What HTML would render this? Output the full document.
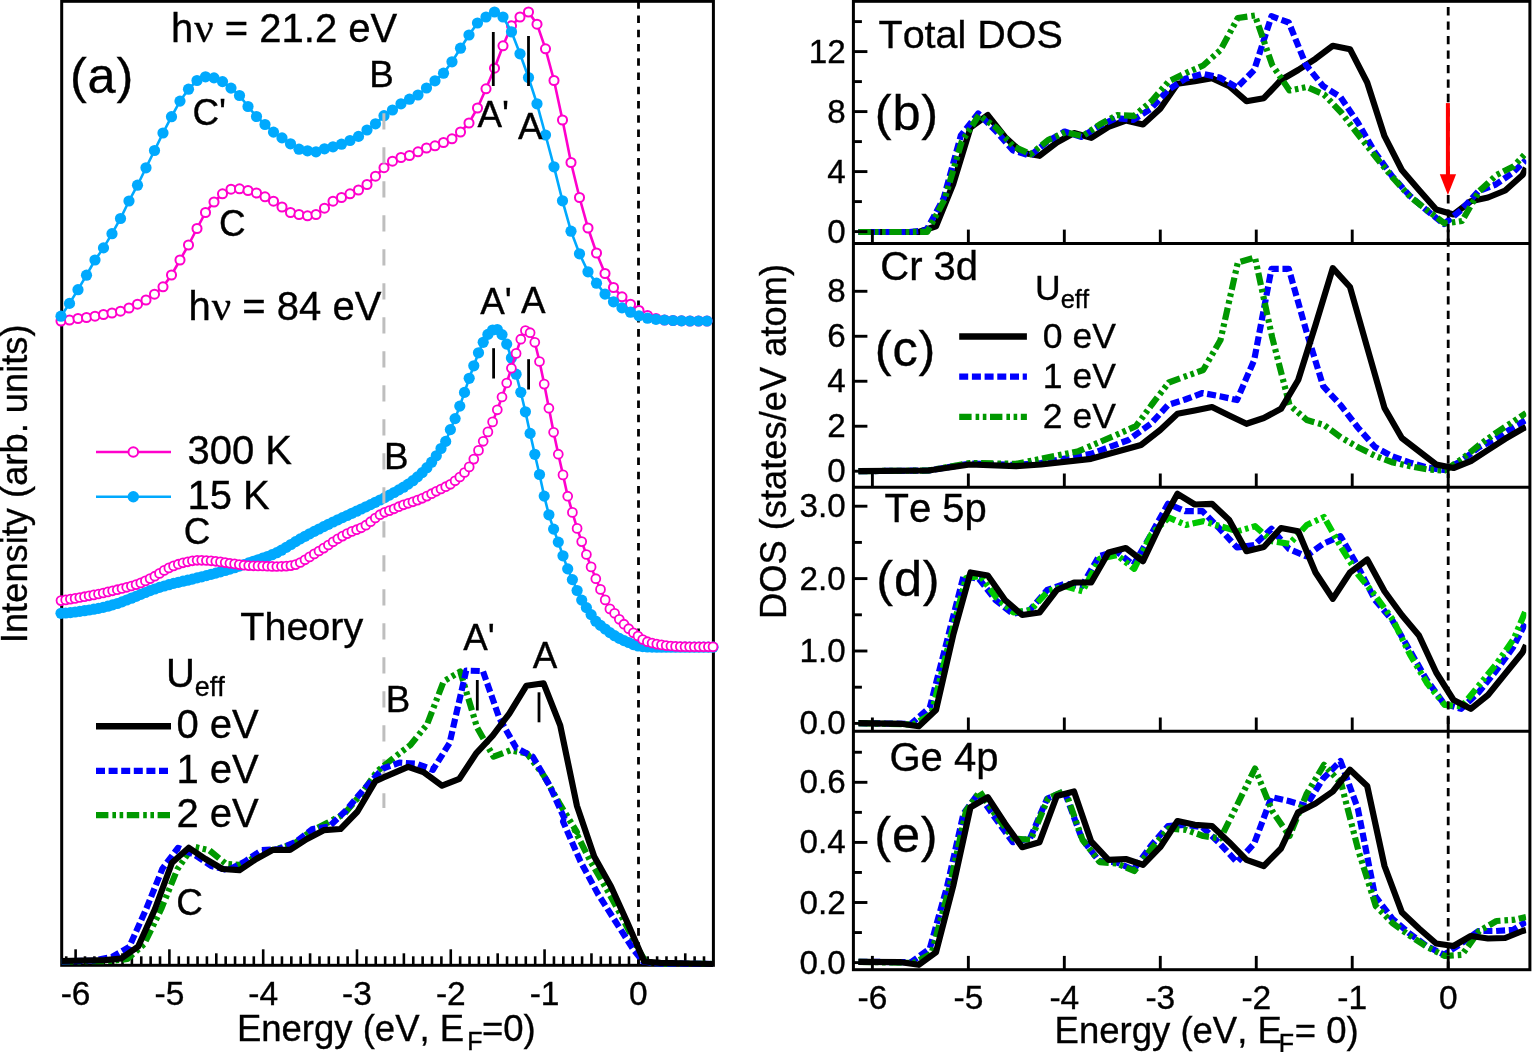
<!DOCTYPE html>
<html><head><meta charset="utf-8"><title>Figure</title>
<style>html,body{margin:0;padding:0;background:#fff;}svg{display:block;}</style>
</head><body>
<svg width="1532" height="1052" viewBox="0 0 1532 1052" font-family='"Liberation Sans", sans-serif' fill="#000">
<style>text{stroke:#000;stroke-width:0.35px;font-kerning:none;font-variant-ligatures:none;}</style>
<rect x="0" y="0" width="1532" height="1052" fill="#fff"/>
<rect x="61.7" y="1.3" width="651.6999999999999" height="964.0" fill="none" stroke="#000" stroke-width="3"/>
<line x1="66.23" y1="965.30" x2="66.23" y2="956.30" stroke="#000" stroke-width="2.6"/>
<line x1="75.61" y1="965.30" x2="75.61" y2="949.30" stroke="#000" stroke-width="2.6"/>
<line x1="84.99" y1="965.30" x2="84.99" y2="956.30" stroke="#000" stroke-width="2.6"/>
<line x1="94.37" y1="965.30" x2="94.37" y2="956.30" stroke="#000" stroke-width="2.6"/>
<line x1="103.75" y1="965.30" x2="103.75" y2="956.30" stroke="#000" stroke-width="2.6"/>
<line x1="113.13" y1="965.30" x2="113.13" y2="956.30" stroke="#000" stroke-width="2.6"/>
<line x1="122.50" y1="965.30" x2="122.50" y2="953.30" stroke="#000" stroke-width="2.6"/>
<line x1="131.88" y1="965.30" x2="131.88" y2="956.30" stroke="#000" stroke-width="2.6"/>
<line x1="141.26" y1="965.30" x2="141.26" y2="956.30" stroke="#000" stroke-width="2.6"/>
<line x1="150.64" y1="965.30" x2="150.64" y2="956.30" stroke="#000" stroke-width="2.6"/>
<line x1="160.02" y1="965.30" x2="160.02" y2="956.30" stroke="#000" stroke-width="2.6"/>
<line x1="169.40" y1="965.30" x2="169.40" y2="949.30" stroke="#000" stroke-width="2.6"/>
<line x1="178.78" y1="965.30" x2="178.78" y2="956.30" stroke="#000" stroke-width="2.6"/>
<line x1="188.16" y1="965.30" x2="188.16" y2="956.30" stroke="#000" stroke-width="2.6"/>
<line x1="197.54" y1="965.30" x2="197.54" y2="956.30" stroke="#000" stroke-width="2.6"/>
<line x1="206.92" y1="965.30" x2="206.92" y2="956.30" stroke="#000" stroke-width="2.6"/>
<line x1="216.30" y1="965.30" x2="216.30" y2="953.30" stroke="#000" stroke-width="2.6"/>
<line x1="225.67" y1="965.30" x2="225.67" y2="956.30" stroke="#000" stroke-width="2.6"/>
<line x1="235.05" y1="965.30" x2="235.05" y2="956.30" stroke="#000" stroke-width="2.6"/>
<line x1="244.43" y1="965.30" x2="244.43" y2="956.30" stroke="#000" stroke-width="2.6"/>
<line x1="253.81" y1="965.30" x2="253.81" y2="956.30" stroke="#000" stroke-width="2.6"/>
<line x1="263.19" y1="965.30" x2="263.19" y2="949.30" stroke="#000" stroke-width="2.6"/>
<line x1="272.57" y1="965.30" x2="272.57" y2="956.30" stroke="#000" stroke-width="2.6"/>
<line x1="281.95" y1="965.30" x2="281.95" y2="956.30" stroke="#000" stroke-width="2.6"/>
<line x1="291.33" y1="965.30" x2="291.33" y2="956.30" stroke="#000" stroke-width="2.6"/>
<line x1="300.71" y1="965.30" x2="300.71" y2="956.30" stroke="#000" stroke-width="2.6"/>
<line x1="310.08" y1="965.30" x2="310.08" y2="953.30" stroke="#000" stroke-width="2.6"/>
<line x1="319.46" y1="965.30" x2="319.46" y2="956.30" stroke="#000" stroke-width="2.6"/>
<line x1="328.84" y1="965.30" x2="328.84" y2="956.30" stroke="#000" stroke-width="2.6"/>
<line x1="338.22" y1="965.30" x2="338.22" y2="956.30" stroke="#000" stroke-width="2.6"/>
<line x1="347.60" y1="965.30" x2="347.60" y2="956.30" stroke="#000" stroke-width="2.6"/>
<line x1="356.98" y1="965.30" x2="356.98" y2="949.30" stroke="#000" stroke-width="2.6"/>
<line x1="366.36" y1="965.30" x2="366.36" y2="956.30" stroke="#000" stroke-width="2.6"/>
<line x1="375.74" y1="965.30" x2="375.74" y2="956.30" stroke="#000" stroke-width="2.6"/>
<line x1="385.12" y1="965.30" x2="385.12" y2="956.30" stroke="#000" stroke-width="2.6"/>
<line x1="394.50" y1="965.30" x2="394.50" y2="956.30" stroke="#000" stroke-width="2.6"/>
<line x1="403.88" y1="965.30" x2="403.88" y2="953.30" stroke="#000" stroke-width="2.6"/>
<line x1="413.25" y1="965.30" x2="413.25" y2="956.30" stroke="#000" stroke-width="2.6"/>
<line x1="422.63" y1="965.30" x2="422.63" y2="956.30" stroke="#000" stroke-width="2.6"/>
<line x1="432.01" y1="965.30" x2="432.01" y2="956.30" stroke="#000" stroke-width="2.6"/>
<line x1="441.39" y1="965.30" x2="441.39" y2="956.30" stroke="#000" stroke-width="2.6"/>
<line x1="450.77" y1="965.30" x2="450.77" y2="949.30" stroke="#000" stroke-width="2.6"/>
<line x1="460.15" y1="965.30" x2="460.15" y2="956.30" stroke="#000" stroke-width="2.6"/>
<line x1="469.53" y1="965.30" x2="469.53" y2="956.30" stroke="#000" stroke-width="2.6"/>
<line x1="478.91" y1="965.30" x2="478.91" y2="956.30" stroke="#000" stroke-width="2.6"/>
<line x1="488.29" y1="965.30" x2="488.29" y2="956.30" stroke="#000" stroke-width="2.6"/>
<line x1="497.67" y1="965.30" x2="497.67" y2="953.30" stroke="#000" stroke-width="2.6"/>
<line x1="507.04" y1="965.30" x2="507.04" y2="956.30" stroke="#000" stroke-width="2.6"/>
<line x1="516.42" y1="965.30" x2="516.42" y2="956.30" stroke="#000" stroke-width="2.6"/>
<line x1="525.80" y1="965.30" x2="525.80" y2="956.30" stroke="#000" stroke-width="2.6"/>
<line x1="535.18" y1="965.30" x2="535.18" y2="956.30" stroke="#000" stroke-width="2.6"/>
<line x1="544.56" y1="965.30" x2="544.56" y2="949.30" stroke="#000" stroke-width="2.6"/>
<line x1="553.94" y1="965.30" x2="553.94" y2="956.30" stroke="#000" stroke-width="2.6"/>
<line x1="563.32" y1="965.30" x2="563.32" y2="956.30" stroke="#000" stroke-width="2.6"/>
<line x1="572.70" y1="965.30" x2="572.70" y2="956.30" stroke="#000" stroke-width="2.6"/>
<line x1="582.08" y1="965.30" x2="582.08" y2="956.30" stroke="#000" stroke-width="2.6"/>
<line x1="591.46" y1="965.30" x2="591.46" y2="953.30" stroke="#000" stroke-width="2.6"/>
<line x1="600.83" y1="965.30" x2="600.83" y2="956.30" stroke="#000" stroke-width="2.6"/>
<line x1="610.21" y1="965.30" x2="610.21" y2="956.30" stroke="#000" stroke-width="2.6"/>
<line x1="619.59" y1="965.30" x2="619.59" y2="956.30" stroke="#000" stroke-width="2.6"/>
<line x1="628.97" y1="965.30" x2="628.97" y2="956.30" stroke="#000" stroke-width="2.6"/>
<line x1="638.35" y1="965.30" x2="638.35" y2="949.30" stroke="#000" stroke-width="2.6"/>
<line x1="647.73" y1="965.30" x2="647.73" y2="956.30" stroke="#000" stroke-width="2.6"/>
<line x1="657.11" y1="965.30" x2="657.11" y2="956.30" stroke="#000" stroke-width="2.6"/>
<line x1="666.49" y1="965.30" x2="666.49" y2="956.30" stroke="#000" stroke-width="2.6"/>
<line x1="675.87" y1="965.30" x2="675.87" y2="956.30" stroke="#000" stroke-width="2.6"/>
<line x1="685.25" y1="965.30" x2="685.25" y2="953.30" stroke="#000" stroke-width="2.6"/>
<line x1="694.62" y1="965.30" x2="694.62" y2="956.30" stroke="#000" stroke-width="2.6"/>
<line x1="704.00" y1="965.30" x2="704.00" y2="956.30" stroke="#000" stroke-width="2.6"/>
<line x1="638.50" y1="1.14" x2="638.50" y2="965.00" stroke="#000" stroke-width="2.8" stroke-dasharray="7.6 6.66"/>
<path d="M61.0,613.3 L65.7,613.0 L70.4,612.6 L75.1,612.0 L79.8,611.4 L84.5,610.7 L89.1,610.0 L93.8,609.2 L98.5,608.4 L103.2,607.4 L107.9,606.2 L112.6,604.9 L117.3,603.5 L122.0,601.9 L126.7,600.0 L131.4,598.2 L136.1,596.4 L140.8,594.4 L145.4,592.5 L150.1,590.6 L154.8,589.0 L159.5,587.4 L164.2,586.0 L168.9,584.7 L173.6,583.4 L178.3,582.3 L183.0,581.2 L187.7,580.2 L192.4,579.1 L197.1,577.9 L201.7,576.8 L206.4,575.6 L211.1,574.3 L215.8,573.1 L220.5,571.8 L225.2,570.5 L229.9,569.1 L234.6,567.7 L239.3,566.1 L244.0,564.6 L248.7,562.9 L253.3,561.3 L258.0,559.8 L262.7,558.2 L267.4,556.5 L272.1,554.7 L276.8,552.7 L281.5,550.2 L286.2,547.4 L290.9,544.5 L295.6,541.6 L300.3,538.9 L305.0,536.3 L309.6,533.8 L314.3,531.4 L319.0,529.0 L323.7,526.6 L328.4,524.3 L333.1,522.0 L337.8,519.8 L342.5,517.6 L347.2,515.5 L351.9,513.3 L356.6,511.2 L361.2,509.0 L365.9,506.8 L370.6,504.6 L375.3,502.3 L380.0,500.0 L384.7,497.6 L389.4,495.1 L394.1,492.5 L398.8,489.9 L403.5,487.2 L408.2,484.1 L412.9,480.7 L417.5,476.9 L422.2,472.6 L426.9,467.7 L431.6,462.2 L436.3,455.8 L441.0,448.5 L445.7,441.4 L450.4,429.6 L455.1,418.6 L459.8,406.1 L464.5,392.4 L469.2,378.3 L473.8,365.8 L478.5,352.8 L483.2,342.3 L487.9,334.4 L492.6,330.0 L497.3,329.5 L502.0,334.6 L506.7,344.1 L511.4,358.0 L516.1,374.2 L520.8,392.3 L525.4,411.8 L530.1,433.4 L534.8,454.3 L539.5,474.5 L544.2,496.1 L548.9,514.8 L553.6,529.1 L558.3,542.1 L563.0,555.8 L567.7,568.9 L572.4,579.6 L577.1,590.5 L581.7,600.1 L586.4,607.6 L591.1,614.6 L595.8,621.2 L600.5,625.4 L605.2,629.0 L609.9,632.6 L614.6,635.7 L619.3,638.4 L624.0,640.6 L628.7,642.5 L633.4,644.6 L638.0,646.0 L642.7,646.6 L647.4,647.0 L652.1,647.1 L656.8,647.2 L661.5,647.2 L666.2,647.2 L670.9,647.2 L675.6,647.2 L680.3,647.2 L685.0,647.2 L689.6,647.2 L694.3,647.2 L699.0,647.2 L703.7,647.2 L708.4,647.2 L713.0,647.2" fill="none" stroke="#00A9FE" stroke-width="2.6"/>
<circle cx="61.0" cy="613.3" r="5.6" fill="#00A9FE"/>
<circle cx="65.7" cy="613.0" r="5.6" fill="#00A9FE"/>
<circle cx="70.4" cy="612.6" r="5.6" fill="#00A9FE"/>
<circle cx="75.1" cy="612.0" r="5.6" fill="#00A9FE"/>
<circle cx="79.8" cy="611.4" r="5.6" fill="#00A9FE"/>
<circle cx="84.5" cy="610.7" r="5.6" fill="#00A9FE"/>
<circle cx="89.1" cy="610.0" r="5.6" fill="#00A9FE"/>
<circle cx="93.8" cy="609.2" r="5.6" fill="#00A9FE"/>
<circle cx="98.5" cy="608.4" r="5.6" fill="#00A9FE"/>
<circle cx="103.2" cy="607.4" r="5.6" fill="#00A9FE"/>
<circle cx="107.9" cy="606.2" r="5.6" fill="#00A9FE"/>
<circle cx="112.6" cy="604.9" r="5.6" fill="#00A9FE"/>
<circle cx="117.3" cy="603.5" r="5.6" fill="#00A9FE"/>
<circle cx="122.0" cy="601.9" r="5.6" fill="#00A9FE"/>
<circle cx="126.7" cy="600.0" r="5.6" fill="#00A9FE"/>
<circle cx="131.4" cy="598.2" r="5.6" fill="#00A9FE"/>
<circle cx="136.1" cy="596.4" r="5.6" fill="#00A9FE"/>
<circle cx="140.8" cy="594.4" r="5.6" fill="#00A9FE"/>
<circle cx="145.4" cy="592.5" r="5.6" fill="#00A9FE"/>
<circle cx="150.1" cy="590.6" r="5.6" fill="#00A9FE"/>
<circle cx="154.8" cy="589.0" r="5.6" fill="#00A9FE"/>
<circle cx="159.5" cy="587.4" r="5.6" fill="#00A9FE"/>
<circle cx="164.2" cy="586.0" r="5.6" fill="#00A9FE"/>
<circle cx="168.9" cy="584.7" r="5.6" fill="#00A9FE"/>
<circle cx="173.6" cy="583.4" r="5.6" fill="#00A9FE"/>
<circle cx="178.3" cy="582.3" r="5.6" fill="#00A9FE"/>
<circle cx="183.0" cy="581.2" r="5.6" fill="#00A9FE"/>
<circle cx="187.7" cy="580.2" r="5.6" fill="#00A9FE"/>
<circle cx="192.4" cy="579.1" r="5.6" fill="#00A9FE"/>
<circle cx="197.1" cy="577.9" r="5.6" fill="#00A9FE"/>
<circle cx="201.7" cy="576.8" r="5.6" fill="#00A9FE"/>
<circle cx="206.4" cy="575.6" r="5.6" fill="#00A9FE"/>
<circle cx="211.1" cy="574.3" r="5.6" fill="#00A9FE"/>
<circle cx="215.8" cy="573.1" r="5.6" fill="#00A9FE"/>
<circle cx="220.5" cy="571.8" r="5.6" fill="#00A9FE"/>
<circle cx="225.2" cy="570.5" r="5.6" fill="#00A9FE"/>
<circle cx="229.9" cy="569.1" r="5.6" fill="#00A9FE"/>
<circle cx="234.6" cy="567.7" r="5.6" fill="#00A9FE"/>
<circle cx="239.3" cy="566.1" r="5.6" fill="#00A9FE"/>
<circle cx="244.0" cy="564.6" r="5.6" fill="#00A9FE"/>
<circle cx="248.7" cy="562.9" r="5.6" fill="#00A9FE"/>
<circle cx="253.3" cy="561.3" r="5.6" fill="#00A9FE"/>
<circle cx="258.0" cy="559.8" r="5.6" fill="#00A9FE"/>
<circle cx="262.7" cy="558.2" r="5.6" fill="#00A9FE"/>
<circle cx="267.4" cy="556.5" r="5.6" fill="#00A9FE"/>
<circle cx="272.1" cy="554.7" r="5.6" fill="#00A9FE"/>
<circle cx="276.8" cy="552.7" r="5.6" fill="#00A9FE"/>
<circle cx="281.5" cy="550.2" r="5.6" fill="#00A9FE"/>
<circle cx="286.2" cy="547.4" r="5.6" fill="#00A9FE"/>
<circle cx="290.9" cy="544.5" r="5.6" fill="#00A9FE"/>
<circle cx="295.6" cy="541.6" r="5.6" fill="#00A9FE"/>
<circle cx="300.3" cy="538.9" r="5.6" fill="#00A9FE"/>
<circle cx="305.0" cy="536.3" r="5.6" fill="#00A9FE"/>
<circle cx="309.6" cy="533.8" r="5.6" fill="#00A9FE"/>
<circle cx="314.3" cy="531.4" r="5.6" fill="#00A9FE"/>
<circle cx="319.0" cy="529.0" r="5.6" fill="#00A9FE"/>
<circle cx="323.7" cy="526.6" r="5.6" fill="#00A9FE"/>
<circle cx="328.4" cy="524.3" r="5.6" fill="#00A9FE"/>
<circle cx="333.1" cy="522.0" r="5.6" fill="#00A9FE"/>
<circle cx="337.8" cy="519.8" r="5.6" fill="#00A9FE"/>
<circle cx="342.5" cy="517.6" r="5.6" fill="#00A9FE"/>
<circle cx="347.2" cy="515.5" r="5.6" fill="#00A9FE"/>
<circle cx="351.9" cy="513.3" r="5.6" fill="#00A9FE"/>
<circle cx="356.6" cy="511.2" r="5.6" fill="#00A9FE"/>
<circle cx="361.2" cy="509.0" r="5.6" fill="#00A9FE"/>
<circle cx="365.9" cy="506.8" r="5.6" fill="#00A9FE"/>
<circle cx="370.6" cy="504.6" r="5.6" fill="#00A9FE"/>
<circle cx="375.3" cy="502.3" r="5.6" fill="#00A9FE"/>
<circle cx="380.0" cy="500.0" r="5.6" fill="#00A9FE"/>
<circle cx="384.7" cy="497.6" r="5.6" fill="#00A9FE"/>
<circle cx="389.4" cy="495.1" r="5.6" fill="#00A9FE"/>
<circle cx="394.1" cy="492.5" r="5.6" fill="#00A9FE"/>
<circle cx="398.8" cy="489.9" r="5.6" fill="#00A9FE"/>
<circle cx="403.5" cy="487.2" r="5.6" fill="#00A9FE"/>
<circle cx="408.2" cy="484.1" r="5.6" fill="#00A9FE"/>
<circle cx="412.9" cy="480.7" r="5.6" fill="#00A9FE"/>
<circle cx="417.5" cy="476.9" r="5.6" fill="#00A9FE"/>
<circle cx="422.2" cy="472.6" r="5.6" fill="#00A9FE"/>
<circle cx="426.9" cy="467.7" r="5.6" fill="#00A9FE"/>
<circle cx="431.6" cy="462.2" r="5.6" fill="#00A9FE"/>
<circle cx="436.3" cy="455.8" r="5.6" fill="#00A9FE"/>
<circle cx="441.0" cy="448.5" r="5.6" fill="#00A9FE"/>
<circle cx="445.7" cy="441.4" r="5.6" fill="#00A9FE"/>
<circle cx="450.4" cy="429.6" r="5.6" fill="#00A9FE"/>
<circle cx="455.1" cy="418.6" r="5.6" fill="#00A9FE"/>
<circle cx="459.8" cy="406.1" r="5.6" fill="#00A9FE"/>
<circle cx="464.5" cy="392.4" r="5.6" fill="#00A9FE"/>
<circle cx="469.2" cy="378.3" r="5.6" fill="#00A9FE"/>
<circle cx="473.8" cy="365.8" r="5.6" fill="#00A9FE"/>
<circle cx="478.5" cy="352.8" r="5.6" fill="#00A9FE"/>
<circle cx="483.2" cy="342.3" r="5.6" fill="#00A9FE"/>
<circle cx="487.9" cy="334.4" r="5.6" fill="#00A9FE"/>
<circle cx="492.6" cy="330.0" r="5.6" fill="#00A9FE"/>
<circle cx="497.3" cy="329.5" r="5.6" fill="#00A9FE"/>
<circle cx="502.0" cy="334.6" r="5.6" fill="#00A9FE"/>
<circle cx="506.7" cy="344.1" r="5.6" fill="#00A9FE"/>
<circle cx="511.4" cy="358.0" r="5.6" fill="#00A9FE"/>
<circle cx="516.1" cy="374.2" r="5.6" fill="#00A9FE"/>
<circle cx="520.8" cy="392.3" r="5.6" fill="#00A9FE"/>
<circle cx="525.4" cy="411.8" r="5.6" fill="#00A9FE"/>
<circle cx="530.1" cy="433.4" r="5.6" fill="#00A9FE"/>
<circle cx="534.8" cy="454.3" r="5.6" fill="#00A9FE"/>
<circle cx="539.5" cy="474.5" r="5.6" fill="#00A9FE"/>
<circle cx="544.2" cy="496.1" r="5.6" fill="#00A9FE"/>
<circle cx="548.9" cy="514.8" r="5.6" fill="#00A9FE"/>
<circle cx="553.6" cy="529.1" r="5.6" fill="#00A9FE"/>
<circle cx="558.3" cy="542.1" r="5.6" fill="#00A9FE"/>
<circle cx="563.0" cy="555.8" r="5.6" fill="#00A9FE"/>
<circle cx="567.7" cy="568.9" r="5.6" fill="#00A9FE"/>
<circle cx="572.4" cy="579.6" r="5.6" fill="#00A9FE"/>
<circle cx="577.1" cy="590.5" r="5.6" fill="#00A9FE"/>
<circle cx="581.7" cy="600.1" r="5.6" fill="#00A9FE"/>
<circle cx="586.4" cy="607.6" r="5.6" fill="#00A9FE"/>
<circle cx="591.1" cy="614.6" r="5.6" fill="#00A9FE"/>
<circle cx="595.8" cy="621.2" r="5.6" fill="#00A9FE"/>
<circle cx="600.5" cy="625.4" r="5.6" fill="#00A9FE"/>
<circle cx="605.2" cy="629.0" r="5.6" fill="#00A9FE"/>
<circle cx="609.9" cy="632.6" r="5.6" fill="#00A9FE"/>
<circle cx="614.6" cy="635.7" r="5.6" fill="#00A9FE"/>
<circle cx="619.3" cy="638.4" r="5.6" fill="#00A9FE"/>
<circle cx="624.0" cy="640.6" r="5.6" fill="#00A9FE"/>
<circle cx="628.7" cy="642.5" r="5.6" fill="#00A9FE"/>
<circle cx="633.4" cy="644.6" r="5.6" fill="#00A9FE"/>
<circle cx="638.0" cy="646.0" r="5.6" fill="#00A9FE"/>
<circle cx="642.7" cy="646.6" r="5.6" fill="#00A9FE"/>
<circle cx="647.4" cy="647.0" r="5.6" fill="#00A9FE"/>
<circle cx="652.1" cy="647.1" r="5.6" fill="#00A9FE"/>
<circle cx="656.8" cy="647.2" r="5.6" fill="#00A9FE"/>
<circle cx="661.5" cy="647.2" r="5.6" fill="#00A9FE"/>
<circle cx="666.2" cy="647.2" r="5.6" fill="#00A9FE"/>
<circle cx="670.9" cy="647.2" r="5.6" fill="#00A9FE"/>
<circle cx="675.6" cy="647.2" r="5.6" fill="#00A9FE"/>
<circle cx="680.3" cy="647.2" r="5.6" fill="#00A9FE"/>
<circle cx="685.0" cy="647.2" r="5.6" fill="#00A9FE"/>
<circle cx="689.6" cy="647.2" r="5.6" fill="#00A9FE"/>
<circle cx="694.3" cy="647.2" r="5.6" fill="#00A9FE"/>
<circle cx="699.0" cy="647.2" r="5.6" fill="#00A9FE"/>
<circle cx="703.7" cy="647.2" r="5.6" fill="#00A9FE"/>
<circle cx="708.4" cy="647.2" r="5.6" fill="#00A9FE"/>
<circle cx="713.0" cy="647.2" r="5.6" fill="#00A9FE"/>
<path d="M61.0,600.6 L65.7,599.9 L70.4,599.1 L75.1,598.4 L79.8,597.5 L84.5,596.7 L89.1,595.8 L93.8,594.9 L98.5,594.0 L103.2,593.0 L107.9,591.9 L112.6,590.8 L117.3,589.7 L122.0,588.5 L126.7,587.3 L131.4,586.0 L136.1,584.6 L140.8,582.9 L145.4,580.9 L150.1,578.6 L154.8,576.2 L159.5,573.4 L164.2,570.4 L168.9,567.9 L173.6,565.9 L178.3,564.2 L183.0,562.8 L187.7,561.8 L192.4,560.8 L197.1,560.3 L201.7,560.3 L206.4,560.5 L211.1,560.8 L215.8,561.3 L220.5,561.9 L225.2,562.6 L229.9,563.3 L234.6,563.9 L239.3,564.6 L244.0,565.2 L248.7,565.6 L253.3,565.8 L258.0,565.9 L262.7,566.0 L267.4,566.2 L272.1,566.4 L276.8,566.5 L281.5,566.3 L286.2,566.1 L290.9,565.6 L295.6,564.6 L300.3,562.5 L305.0,559.8 L309.6,556.9 L314.3,553.9 L319.0,551.0 L323.7,548.1 L328.4,545.0 L333.1,541.8 L337.8,538.8 L342.5,536.1 L347.2,533.6 L351.9,531.4 L356.6,529.7 L361.2,527.8 L365.9,525.2 L370.6,521.7 L375.3,518.0 L380.0,514.7 L384.7,512.3 L389.4,510.6 L394.1,508.8 L398.8,506.7 L403.5,504.8 L408.2,503.3 L412.9,501.8 L417.5,500.1 L422.2,498.3 L426.9,496.1 L431.6,493.7 L436.3,491.3 L441.0,489.0 L445.7,486.7 L450.4,484.3 L455.1,480.8 L459.8,477.0 L464.5,472.5 L469.2,466.9 L473.8,459.1 L478.5,450.4 L483.2,441.3 L487.9,431.9 L492.6,421.9 L497.3,409.8 L502.0,397.0 L506.7,383.0 L511.4,368.2 L516.1,353.4 L520.8,339.2 L525.4,330.5 L530.1,332.7 L534.8,342.3 L539.5,361.5 L544.2,384.1 L548.9,408.2 L553.6,432.3 L558.3,454.2 L563.0,474.9 L567.7,496.2 L572.4,512.4 L577.1,528.4 L581.7,541.6 L586.4,554.5 L591.1,566.9 L595.8,578.7 L600.5,589.4 L605.2,599.9 L609.9,608.9 L614.6,613.3 L619.3,619.3 L624.0,624.2 L628.7,628.7 L633.4,632.8 L638.0,636.0 L642.7,639.5 L647.4,641.7 L652.1,643.0 L656.8,644.1 L661.5,644.9 L666.2,645.6 L670.9,646.0 L675.6,646.4 L680.3,646.6 L685.0,646.7 L689.6,646.8 L694.3,646.8 L699.0,646.8 L703.7,646.8 L708.4,646.8 L713.0,646.8" fill="none" stroke="#FF00CC" stroke-width="2.6"/>
<circle cx="61.0" cy="600.6" r="4.45" fill="#fff" stroke="#FF00CC" stroke-width="1.8"/>
<circle cx="65.7" cy="599.9" r="4.45" fill="#fff" stroke="#FF00CC" stroke-width="1.8"/>
<circle cx="70.4" cy="599.1" r="4.45" fill="#fff" stroke="#FF00CC" stroke-width="1.8"/>
<circle cx="75.1" cy="598.4" r="4.45" fill="#fff" stroke="#FF00CC" stroke-width="1.8"/>
<circle cx="79.8" cy="597.5" r="4.45" fill="#fff" stroke="#FF00CC" stroke-width="1.8"/>
<circle cx="84.5" cy="596.7" r="4.45" fill="#fff" stroke="#FF00CC" stroke-width="1.8"/>
<circle cx="89.1" cy="595.8" r="4.45" fill="#fff" stroke="#FF00CC" stroke-width="1.8"/>
<circle cx="93.8" cy="594.9" r="4.45" fill="#fff" stroke="#FF00CC" stroke-width="1.8"/>
<circle cx="98.5" cy="594.0" r="4.45" fill="#fff" stroke="#FF00CC" stroke-width="1.8"/>
<circle cx="103.2" cy="593.0" r="4.45" fill="#fff" stroke="#FF00CC" stroke-width="1.8"/>
<circle cx="107.9" cy="591.9" r="4.45" fill="#fff" stroke="#FF00CC" stroke-width="1.8"/>
<circle cx="112.6" cy="590.8" r="4.45" fill="#fff" stroke="#FF00CC" stroke-width="1.8"/>
<circle cx="117.3" cy="589.7" r="4.45" fill="#fff" stroke="#FF00CC" stroke-width="1.8"/>
<circle cx="122.0" cy="588.5" r="4.45" fill="#fff" stroke="#FF00CC" stroke-width="1.8"/>
<circle cx="126.7" cy="587.3" r="4.45" fill="#fff" stroke="#FF00CC" stroke-width="1.8"/>
<circle cx="131.4" cy="586.0" r="4.45" fill="#fff" stroke="#FF00CC" stroke-width="1.8"/>
<circle cx="136.1" cy="584.6" r="4.45" fill="#fff" stroke="#FF00CC" stroke-width="1.8"/>
<circle cx="140.8" cy="582.9" r="4.45" fill="#fff" stroke="#FF00CC" stroke-width="1.8"/>
<circle cx="145.4" cy="580.9" r="4.45" fill="#fff" stroke="#FF00CC" stroke-width="1.8"/>
<circle cx="150.1" cy="578.6" r="4.45" fill="#fff" stroke="#FF00CC" stroke-width="1.8"/>
<circle cx="154.8" cy="576.2" r="4.45" fill="#fff" stroke="#FF00CC" stroke-width="1.8"/>
<circle cx="159.5" cy="573.4" r="4.45" fill="#fff" stroke="#FF00CC" stroke-width="1.8"/>
<circle cx="164.2" cy="570.4" r="4.45" fill="#fff" stroke="#FF00CC" stroke-width="1.8"/>
<circle cx="168.9" cy="567.9" r="4.45" fill="#fff" stroke="#FF00CC" stroke-width="1.8"/>
<circle cx="173.6" cy="565.9" r="4.45" fill="#fff" stroke="#FF00CC" stroke-width="1.8"/>
<circle cx="178.3" cy="564.2" r="4.45" fill="#fff" stroke="#FF00CC" stroke-width="1.8"/>
<circle cx="183.0" cy="562.8" r="4.45" fill="#fff" stroke="#FF00CC" stroke-width="1.8"/>
<circle cx="187.7" cy="561.8" r="4.45" fill="#fff" stroke="#FF00CC" stroke-width="1.8"/>
<circle cx="192.4" cy="560.8" r="4.45" fill="#fff" stroke="#FF00CC" stroke-width="1.8"/>
<circle cx="197.1" cy="560.3" r="4.45" fill="#fff" stroke="#FF00CC" stroke-width="1.8"/>
<circle cx="201.7" cy="560.3" r="4.45" fill="#fff" stroke="#FF00CC" stroke-width="1.8"/>
<circle cx="206.4" cy="560.5" r="4.45" fill="#fff" stroke="#FF00CC" stroke-width="1.8"/>
<circle cx="211.1" cy="560.8" r="4.45" fill="#fff" stroke="#FF00CC" stroke-width="1.8"/>
<circle cx="215.8" cy="561.3" r="4.45" fill="#fff" stroke="#FF00CC" stroke-width="1.8"/>
<circle cx="220.5" cy="561.9" r="4.45" fill="#fff" stroke="#FF00CC" stroke-width="1.8"/>
<circle cx="225.2" cy="562.6" r="4.45" fill="#fff" stroke="#FF00CC" stroke-width="1.8"/>
<circle cx="229.9" cy="563.3" r="4.45" fill="#fff" stroke="#FF00CC" stroke-width="1.8"/>
<circle cx="234.6" cy="563.9" r="4.45" fill="#fff" stroke="#FF00CC" stroke-width="1.8"/>
<circle cx="239.3" cy="564.6" r="4.45" fill="#fff" stroke="#FF00CC" stroke-width="1.8"/>
<circle cx="244.0" cy="565.2" r="4.45" fill="#fff" stroke="#FF00CC" stroke-width="1.8"/>
<circle cx="248.7" cy="565.6" r="4.45" fill="#fff" stroke="#FF00CC" stroke-width="1.8"/>
<circle cx="253.3" cy="565.8" r="4.45" fill="#fff" stroke="#FF00CC" stroke-width="1.8"/>
<circle cx="258.0" cy="565.9" r="4.45" fill="#fff" stroke="#FF00CC" stroke-width="1.8"/>
<circle cx="262.7" cy="566.0" r="4.45" fill="#fff" stroke="#FF00CC" stroke-width="1.8"/>
<circle cx="267.4" cy="566.2" r="4.45" fill="#fff" stroke="#FF00CC" stroke-width="1.8"/>
<circle cx="272.1" cy="566.4" r="4.45" fill="#fff" stroke="#FF00CC" stroke-width="1.8"/>
<circle cx="276.8" cy="566.5" r="4.45" fill="#fff" stroke="#FF00CC" stroke-width="1.8"/>
<circle cx="281.5" cy="566.3" r="4.45" fill="#fff" stroke="#FF00CC" stroke-width="1.8"/>
<circle cx="286.2" cy="566.1" r="4.45" fill="#fff" stroke="#FF00CC" stroke-width="1.8"/>
<circle cx="290.9" cy="565.6" r="4.45" fill="#fff" stroke="#FF00CC" stroke-width="1.8"/>
<circle cx="295.6" cy="564.6" r="4.45" fill="#fff" stroke="#FF00CC" stroke-width="1.8"/>
<circle cx="300.3" cy="562.5" r="4.45" fill="#fff" stroke="#FF00CC" stroke-width="1.8"/>
<circle cx="305.0" cy="559.8" r="4.45" fill="#fff" stroke="#FF00CC" stroke-width="1.8"/>
<circle cx="309.6" cy="556.9" r="4.45" fill="#fff" stroke="#FF00CC" stroke-width="1.8"/>
<circle cx="314.3" cy="553.9" r="4.45" fill="#fff" stroke="#FF00CC" stroke-width="1.8"/>
<circle cx="319.0" cy="551.0" r="4.45" fill="#fff" stroke="#FF00CC" stroke-width="1.8"/>
<circle cx="323.7" cy="548.1" r="4.45" fill="#fff" stroke="#FF00CC" stroke-width="1.8"/>
<circle cx="328.4" cy="545.0" r="4.45" fill="#fff" stroke="#FF00CC" stroke-width="1.8"/>
<circle cx="333.1" cy="541.8" r="4.45" fill="#fff" stroke="#FF00CC" stroke-width="1.8"/>
<circle cx="337.8" cy="538.8" r="4.45" fill="#fff" stroke="#FF00CC" stroke-width="1.8"/>
<circle cx="342.5" cy="536.1" r="4.45" fill="#fff" stroke="#FF00CC" stroke-width="1.8"/>
<circle cx="347.2" cy="533.6" r="4.45" fill="#fff" stroke="#FF00CC" stroke-width="1.8"/>
<circle cx="351.9" cy="531.4" r="4.45" fill="#fff" stroke="#FF00CC" stroke-width="1.8"/>
<circle cx="356.6" cy="529.7" r="4.45" fill="#fff" stroke="#FF00CC" stroke-width="1.8"/>
<circle cx="361.2" cy="527.8" r="4.45" fill="#fff" stroke="#FF00CC" stroke-width="1.8"/>
<circle cx="365.9" cy="525.2" r="4.45" fill="#fff" stroke="#FF00CC" stroke-width="1.8"/>
<circle cx="370.6" cy="521.7" r="4.45" fill="#fff" stroke="#FF00CC" stroke-width="1.8"/>
<circle cx="375.3" cy="518.0" r="4.45" fill="#fff" stroke="#FF00CC" stroke-width="1.8"/>
<circle cx="380.0" cy="514.7" r="4.45" fill="#fff" stroke="#FF00CC" stroke-width="1.8"/>
<circle cx="384.7" cy="512.3" r="4.45" fill="#fff" stroke="#FF00CC" stroke-width="1.8"/>
<circle cx="389.4" cy="510.6" r="4.45" fill="#fff" stroke="#FF00CC" stroke-width="1.8"/>
<circle cx="394.1" cy="508.8" r="4.45" fill="#fff" stroke="#FF00CC" stroke-width="1.8"/>
<circle cx="398.8" cy="506.7" r="4.45" fill="#fff" stroke="#FF00CC" stroke-width="1.8"/>
<circle cx="403.5" cy="504.8" r="4.45" fill="#fff" stroke="#FF00CC" stroke-width="1.8"/>
<circle cx="408.2" cy="503.3" r="4.45" fill="#fff" stroke="#FF00CC" stroke-width="1.8"/>
<circle cx="412.9" cy="501.8" r="4.45" fill="#fff" stroke="#FF00CC" stroke-width="1.8"/>
<circle cx="417.5" cy="500.1" r="4.45" fill="#fff" stroke="#FF00CC" stroke-width="1.8"/>
<circle cx="422.2" cy="498.3" r="4.45" fill="#fff" stroke="#FF00CC" stroke-width="1.8"/>
<circle cx="426.9" cy="496.1" r="4.45" fill="#fff" stroke="#FF00CC" stroke-width="1.8"/>
<circle cx="431.6" cy="493.7" r="4.45" fill="#fff" stroke="#FF00CC" stroke-width="1.8"/>
<circle cx="436.3" cy="491.3" r="4.45" fill="#fff" stroke="#FF00CC" stroke-width="1.8"/>
<circle cx="441.0" cy="489.0" r="4.45" fill="#fff" stroke="#FF00CC" stroke-width="1.8"/>
<circle cx="445.7" cy="486.7" r="4.45" fill="#fff" stroke="#FF00CC" stroke-width="1.8"/>
<circle cx="450.4" cy="484.3" r="4.45" fill="#fff" stroke="#FF00CC" stroke-width="1.8"/>
<circle cx="455.1" cy="480.8" r="4.45" fill="#fff" stroke="#FF00CC" stroke-width="1.8"/>
<circle cx="459.8" cy="477.0" r="4.45" fill="#fff" stroke="#FF00CC" stroke-width="1.8"/>
<circle cx="464.5" cy="472.5" r="4.45" fill="#fff" stroke="#FF00CC" stroke-width="1.8"/>
<circle cx="469.2" cy="466.9" r="4.45" fill="#fff" stroke="#FF00CC" stroke-width="1.8"/>
<circle cx="473.8" cy="459.1" r="4.45" fill="#fff" stroke="#FF00CC" stroke-width="1.8"/>
<circle cx="478.5" cy="450.4" r="4.45" fill="#fff" stroke="#FF00CC" stroke-width="1.8"/>
<circle cx="483.2" cy="441.3" r="4.45" fill="#fff" stroke="#FF00CC" stroke-width="1.8"/>
<circle cx="487.9" cy="431.9" r="4.45" fill="#fff" stroke="#FF00CC" stroke-width="1.8"/>
<circle cx="492.6" cy="421.9" r="4.45" fill="#fff" stroke="#FF00CC" stroke-width="1.8"/>
<circle cx="497.3" cy="409.8" r="4.45" fill="#fff" stroke="#FF00CC" stroke-width="1.8"/>
<circle cx="502.0" cy="397.0" r="4.45" fill="#fff" stroke="#FF00CC" stroke-width="1.8"/>
<circle cx="506.7" cy="383.0" r="4.45" fill="#fff" stroke="#FF00CC" stroke-width="1.8"/>
<circle cx="511.4" cy="368.2" r="4.45" fill="#fff" stroke="#FF00CC" stroke-width="1.8"/>
<circle cx="516.1" cy="353.4" r="4.45" fill="#fff" stroke="#FF00CC" stroke-width="1.8"/>
<circle cx="520.8" cy="339.2" r="4.45" fill="#fff" stroke="#FF00CC" stroke-width="1.8"/>
<circle cx="525.4" cy="330.5" r="4.45" fill="#fff" stroke="#FF00CC" stroke-width="1.8"/>
<circle cx="530.1" cy="332.7" r="4.45" fill="#fff" stroke="#FF00CC" stroke-width="1.8"/>
<circle cx="534.8" cy="342.3" r="4.45" fill="#fff" stroke="#FF00CC" stroke-width="1.8"/>
<circle cx="539.5" cy="361.5" r="4.45" fill="#fff" stroke="#FF00CC" stroke-width="1.8"/>
<circle cx="544.2" cy="384.1" r="4.45" fill="#fff" stroke="#FF00CC" stroke-width="1.8"/>
<circle cx="548.9" cy="408.2" r="4.45" fill="#fff" stroke="#FF00CC" stroke-width="1.8"/>
<circle cx="553.6" cy="432.3" r="4.45" fill="#fff" stroke="#FF00CC" stroke-width="1.8"/>
<circle cx="558.3" cy="454.2" r="4.45" fill="#fff" stroke="#FF00CC" stroke-width="1.8"/>
<circle cx="563.0" cy="474.9" r="4.45" fill="#fff" stroke="#FF00CC" stroke-width="1.8"/>
<circle cx="567.7" cy="496.2" r="4.45" fill="#fff" stroke="#FF00CC" stroke-width="1.8"/>
<circle cx="572.4" cy="512.4" r="4.45" fill="#fff" stroke="#FF00CC" stroke-width="1.8"/>
<circle cx="577.1" cy="528.4" r="4.45" fill="#fff" stroke="#FF00CC" stroke-width="1.8"/>
<circle cx="581.7" cy="541.6" r="4.45" fill="#fff" stroke="#FF00CC" stroke-width="1.8"/>
<circle cx="586.4" cy="554.5" r="4.45" fill="#fff" stroke="#FF00CC" stroke-width="1.8"/>
<circle cx="591.1" cy="566.9" r="4.45" fill="#fff" stroke="#FF00CC" stroke-width="1.8"/>
<circle cx="595.8" cy="578.7" r="4.45" fill="#fff" stroke="#FF00CC" stroke-width="1.8"/>
<circle cx="600.5" cy="589.4" r="4.45" fill="#fff" stroke="#FF00CC" stroke-width="1.8"/>
<circle cx="605.2" cy="599.9" r="4.45" fill="#fff" stroke="#FF00CC" stroke-width="1.8"/>
<circle cx="609.9" cy="608.9" r="4.45" fill="#fff" stroke="#FF00CC" stroke-width="1.8"/>
<circle cx="614.6" cy="613.3" r="4.45" fill="#fff" stroke="#FF00CC" stroke-width="1.8"/>
<circle cx="619.3" cy="619.3" r="4.45" fill="#fff" stroke="#FF00CC" stroke-width="1.8"/>
<circle cx="624.0" cy="624.2" r="4.45" fill="#fff" stroke="#FF00CC" stroke-width="1.8"/>
<circle cx="628.7" cy="628.7" r="4.45" fill="#fff" stroke="#FF00CC" stroke-width="1.8"/>
<circle cx="633.4" cy="632.8" r="4.45" fill="#fff" stroke="#FF00CC" stroke-width="1.8"/>
<circle cx="638.0" cy="636.0" r="4.45" fill="#fff" stroke="#FF00CC" stroke-width="1.8"/>
<circle cx="642.7" cy="639.5" r="4.45" fill="#fff" stroke="#FF00CC" stroke-width="1.8"/>
<circle cx="647.4" cy="641.7" r="4.45" fill="#fff" stroke="#FF00CC" stroke-width="1.8"/>
<circle cx="652.1" cy="643.0" r="4.45" fill="#fff" stroke="#FF00CC" stroke-width="1.8"/>
<circle cx="656.8" cy="644.1" r="4.45" fill="#fff" stroke="#FF00CC" stroke-width="1.8"/>
<circle cx="661.5" cy="644.9" r="4.45" fill="#fff" stroke="#FF00CC" stroke-width="1.8"/>
<circle cx="666.2" cy="645.6" r="4.45" fill="#fff" stroke="#FF00CC" stroke-width="1.8"/>
<circle cx="670.9" cy="646.0" r="4.45" fill="#fff" stroke="#FF00CC" stroke-width="1.8"/>
<circle cx="675.6" cy="646.4" r="4.45" fill="#fff" stroke="#FF00CC" stroke-width="1.8"/>
<circle cx="680.3" cy="646.6" r="4.45" fill="#fff" stroke="#FF00CC" stroke-width="1.8"/>
<circle cx="685.0" cy="646.7" r="4.45" fill="#fff" stroke="#FF00CC" stroke-width="1.8"/>
<circle cx="689.6" cy="646.8" r="4.45" fill="#fff" stroke="#FF00CC" stroke-width="1.8"/>
<circle cx="694.3" cy="646.8" r="4.45" fill="#fff" stroke="#FF00CC" stroke-width="1.8"/>
<circle cx="699.0" cy="646.8" r="4.45" fill="#fff" stroke="#FF00CC" stroke-width="1.8"/>
<circle cx="703.7" cy="646.8" r="4.45" fill="#fff" stroke="#FF00CC" stroke-width="1.8"/>
<circle cx="708.4" cy="646.8" r="4.45" fill="#fff" stroke="#FF00CC" stroke-width="1.8"/>
<circle cx="713.0" cy="646.8" r="4.45" fill="#fff" stroke="#FF00CC" stroke-width="1.8"/>
<path d="M61.0,321.0 L69.5,320.0 L78.0,318.5 L86.5,317.5 L95.0,316.2 L103.5,314.5 L112.0,313.0 L120.5,311.2 L129.0,308.0 L137.5,304.2 L146.0,300.0 L154.5,294.2 L163.0,286.8 L171.5,275.0 L180.0,260.0 L188.5,245.0 L197.0,228.5 L205.5,212.5 L214.0,202.0 L222.5,193.8 L231.0,189.2 L239.5,188.8 L248.0,190.5 L256.5,193.0 L265.0,196.8 L273.5,201.2 L282.0,207.0 L290.5,212.5 L299.0,214.5 L307.5,215.8 L316.0,214.5 L324.5,208.2 L333.0,201.2 L341.5,197.5 L350.0,193.8 L358.5,190.0 L367.0,184.5 L375.5,176.2 L384.0,167.7 L392.5,161.2 L401.0,157.5 L409.5,155.5 L418.0,151.8 L426.5,148.0 L435.0,145.8 L443.5,142.5 L452.0,138.8 L460.5,132.0 L469.0,123.0 L477.5,108.0 L486.0,88.8 L494.5,68.2 L503.0,45.8 L511.5,25.8 L520.0,17.0 L528.5,12.0 L537.0,24.2 L545.5,48.8 L554.0,80.5 L562.5,120.0 L571.0,162.5 L579.5,197.5 L588.0,228.0 L596.5,253.0 L605.0,273.5 L613.5,287.5 L622.0,296.8 L630.5,304.2 L639.0,310.5 L647.5,315.5 L656.0,318.5 L664.5,320.0 L673.0,320.5 L681.5,320.8 L690.0,321.0 L698.5,321.0 L707.0,321.0" fill="none" stroke="#FF00CC" stroke-width="2.6"/>
<circle cx="61.0" cy="321.0" r="4.55" fill="#fff" stroke="#FF00CC" stroke-width="2.0"/>
<circle cx="69.5" cy="320.0" r="4.55" fill="#fff" stroke="#FF00CC" stroke-width="2.0"/>
<circle cx="78.0" cy="318.5" r="4.55" fill="#fff" stroke="#FF00CC" stroke-width="2.0"/>
<circle cx="86.5" cy="317.5" r="4.55" fill="#fff" stroke="#FF00CC" stroke-width="2.0"/>
<circle cx="95.0" cy="316.2" r="4.55" fill="#fff" stroke="#FF00CC" stroke-width="2.0"/>
<circle cx="103.5" cy="314.5" r="4.55" fill="#fff" stroke="#FF00CC" stroke-width="2.0"/>
<circle cx="112.0" cy="313.0" r="4.55" fill="#fff" stroke="#FF00CC" stroke-width="2.0"/>
<circle cx="120.5" cy="311.2" r="4.55" fill="#fff" stroke="#FF00CC" stroke-width="2.0"/>
<circle cx="129.0" cy="308.0" r="4.55" fill="#fff" stroke="#FF00CC" stroke-width="2.0"/>
<circle cx="137.5" cy="304.2" r="4.55" fill="#fff" stroke="#FF00CC" stroke-width="2.0"/>
<circle cx="146.0" cy="300.0" r="4.55" fill="#fff" stroke="#FF00CC" stroke-width="2.0"/>
<circle cx="154.5" cy="294.2" r="4.55" fill="#fff" stroke="#FF00CC" stroke-width="2.0"/>
<circle cx="163.0" cy="286.8" r="4.55" fill="#fff" stroke="#FF00CC" stroke-width="2.0"/>
<circle cx="171.5" cy="275.0" r="4.55" fill="#fff" stroke="#FF00CC" stroke-width="2.0"/>
<circle cx="180.0" cy="260.0" r="4.55" fill="#fff" stroke="#FF00CC" stroke-width="2.0"/>
<circle cx="188.5" cy="245.0" r="4.55" fill="#fff" stroke="#FF00CC" stroke-width="2.0"/>
<circle cx="197.0" cy="228.5" r="4.55" fill="#fff" stroke="#FF00CC" stroke-width="2.0"/>
<circle cx="205.5" cy="212.5" r="4.55" fill="#fff" stroke="#FF00CC" stroke-width="2.0"/>
<circle cx="214.0" cy="202.0" r="4.55" fill="#fff" stroke="#FF00CC" stroke-width="2.0"/>
<circle cx="222.5" cy="193.8" r="4.55" fill="#fff" stroke="#FF00CC" stroke-width="2.0"/>
<circle cx="231.0" cy="189.2" r="4.55" fill="#fff" stroke="#FF00CC" stroke-width="2.0"/>
<circle cx="239.5" cy="188.8" r="4.55" fill="#fff" stroke="#FF00CC" stroke-width="2.0"/>
<circle cx="248.0" cy="190.5" r="4.55" fill="#fff" stroke="#FF00CC" stroke-width="2.0"/>
<circle cx="256.5" cy="193.0" r="4.55" fill="#fff" stroke="#FF00CC" stroke-width="2.0"/>
<circle cx="265.0" cy="196.8" r="4.55" fill="#fff" stroke="#FF00CC" stroke-width="2.0"/>
<circle cx="273.5" cy="201.2" r="4.55" fill="#fff" stroke="#FF00CC" stroke-width="2.0"/>
<circle cx="282.0" cy="207.0" r="4.55" fill="#fff" stroke="#FF00CC" stroke-width="2.0"/>
<circle cx="290.5" cy="212.5" r="4.55" fill="#fff" stroke="#FF00CC" stroke-width="2.0"/>
<circle cx="299.0" cy="214.5" r="4.55" fill="#fff" stroke="#FF00CC" stroke-width="2.0"/>
<circle cx="307.5" cy="215.8" r="4.55" fill="#fff" stroke="#FF00CC" stroke-width="2.0"/>
<circle cx="316.0" cy="214.5" r="4.55" fill="#fff" stroke="#FF00CC" stroke-width="2.0"/>
<circle cx="324.5" cy="208.2" r="4.55" fill="#fff" stroke="#FF00CC" stroke-width="2.0"/>
<circle cx="333.0" cy="201.2" r="4.55" fill="#fff" stroke="#FF00CC" stroke-width="2.0"/>
<circle cx="341.5" cy="197.5" r="4.55" fill="#fff" stroke="#FF00CC" stroke-width="2.0"/>
<circle cx="350.0" cy="193.8" r="4.55" fill="#fff" stroke="#FF00CC" stroke-width="2.0"/>
<circle cx="358.5" cy="190.0" r="4.55" fill="#fff" stroke="#FF00CC" stroke-width="2.0"/>
<circle cx="367.0" cy="184.5" r="4.55" fill="#fff" stroke="#FF00CC" stroke-width="2.0"/>
<circle cx="375.5" cy="176.2" r="4.55" fill="#fff" stroke="#FF00CC" stroke-width="2.0"/>
<circle cx="384.0" cy="167.7" r="4.55" fill="#fff" stroke="#FF00CC" stroke-width="2.0"/>
<circle cx="392.5" cy="161.2" r="4.55" fill="#fff" stroke="#FF00CC" stroke-width="2.0"/>
<circle cx="401.0" cy="157.5" r="4.55" fill="#fff" stroke="#FF00CC" stroke-width="2.0"/>
<circle cx="409.5" cy="155.5" r="4.55" fill="#fff" stroke="#FF00CC" stroke-width="2.0"/>
<circle cx="418.0" cy="151.8" r="4.55" fill="#fff" stroke="#FF00CC" stroke-width="2.0"/>
<circle cx="426.5" cy="148.0" r="4.55" fill="#fff" stroke="#FF00CC" stroke-width="2.0"/>
<circle cx="435.0" cy="145.8" r="4.55" fill="#fff" stroke="#FF00CC" stroke-width="2.0"/>
<circle cx="443.5" cy="142.5" r="4.55" fill="#fff" stroke="#FF00CC" stroke-width="2.0"/>
<circle cx="452.0" cy="138.8" r="4.55" fill="#fff" stroke="#FF00CC" stroke-width="2.0"/>
<circle cx="460.5" cy="132.0" r="4.55" fill="#fff" stroke="#FF00CC" stroke-width="2.0"/>
<circle cx="469.0" cy="123.0" r="4.55" fill="#fff" stroke="#FF00CC" stroke-width="2.0"/>
<circle cx="477.5" cy="108.0" r="4.55" fill="#fff" stroke="#FF00CC" stroke-width="2.0"/>
<circle cx="486.0" cy="88.8" r="4.55" fill="#fff" stroke="#FF00CC" stroke-width="2.0"/>
<circle cx="494.5" cy="68.2" r="4.55" fill="#fff" stroke="#FF00CC" stroke-width="2.0"/>
<circle cx="503.0" cy="45.8" r="4.55" fill="#fff" stroke="#FF00CC" stroke-width="2.0"/>
<circle cx="511.5" cy="25.8" r="4.55" fill="#fff" stroke="#FF00CC" stroke-width="2.0"/>
<circle cx="520.0" cy="17.0" r="4.55" fill="#fff" stroke="#FF00CC" stroke-width="2.0"/>
<circle cx="528.5" cy="12.0" r="4.55" fill="#fff" stroke="#FF00CC" stroke-width="2.0"/>
<circle cx="537.0" cy="24.2" r="4.55" fill="#fff" stroke="#FF00CC" stroke-width="2.0"/>
<circle cx="545.5" cy="48.8" r="4.55" fill="#fff" stroke="#FF00CC" stroke-width="2.0"/>
<circle cx="554.0" cy="80.5" r="4.55" fill="#fff" stroke="#FF00CC" stroke-width="2.0"/>
<circle cx="562.5" cy="120.0" r="4.55" fill="#fff" stroke="#FF00CC" stroke-width="2.0"/>
<circle cx="571.0" cy="162.5" r="4.55" fill="#fff" stroke="#FF00CC" stroke-width="2.0"/>
<circle cx="579.5" cy="197.5" r="4.55" fill="#fff" stroke="#FF00CC" stroke-width="2.0"/>
<circle cx="588.0" cy="228.0" r="4.55" fill="#fff" stroke="#FF00CC" stroke-width="2.0"/>
<circle cx="596.5" cy="253.0" r="4.55" fill="#fff" stroke="#FF00CC" stroke-width="2.0"/>
<circle cx="605.0" cy="273.5" r="4.55" fill="#fff" stroke="#FF00CC" stroke-width="2.0"/>
<circle cx="613.5" cy="287.5" r="4.55" fill="#fff" stroke="#FF00CC" stroke-width="2.0"/>
<circle cx="622.0" cy="296.8" r="4.55" fill="#fff" stroke="#FF00CC" stroke-width="2.0"/>
<circle cx="630.5" cy="304.2" r="4.55" fill="#fff" stroke="#FF00CC" stroke-width="2.0"/>
<circle cx="639.0" cy="310.5" r="4.55" fill="#fff" stroke="#FF00CC" stroke-width="2.0"/>
<circle cx="647.5" cy="315.5" r="4.55" fill="#fff" stroke="#FF00CC" stroke-width="2.0"/>
<circle cx="656.0" cy="318.5" r="4.55" fill="#fff" stroke="#FF00CC" stroke-width="2.0"/>
<circle cx="664.5" cy="320.0" r="4.55" fill="#fff" stroke="#FF00CC" stroke-width="2.0"/>
<circle cx="673.0" cy="320.5" r="4.55" fill="#fff" stroke="#FF00CC" stroke-width="2.0"/>
<circle cx="681.5" cy="320.8" r="4.55" fill="#fff" stroke="#FF00CC" stroke-width="2.0"/>
<circle cx="690.0" cy="321.0" r="4.55" fill="#fff" stroke="#FF00CC" stroke-width="2.0"/>
<circle cx="698.5" cy="321.0" r="4.55" fill="#fff" stroke="#FF00CC" stroke-width="2.0"/>
<circle cx="707.0" cy="321.0" r="4.55" fill="#fff" stroke="#FF00CC" stroke-width="2.0"/>
<path d="M61.0,316.2 L69.5,303.4 L78.0,289.7 L86.5,275.2 L95.0,260.0 L103.5,247.9 L112.0,233.7 L120.5,218.5 L129.0,201.0 L137.5,185.2 L146.0,167.8 L154.5,150.5 L163.0,133.0 L171.5,116.7 L180.0,101.1 L188.5,89.2 L197.0,80.5 L205.5,76.8 L214.0,77.9 L222.5,81.6 L231.0,88.1 L239.5,95.5 L248.0,106.5 L256.5,116.5 L265.0,124.5 L273.5,132.1 L282.0,137.9 L290.5,143.8 L299.0,149.2 L307.5,150.8 L316.0,151.8 L324.5,148.8 L333.0,146.8 L341.5,144.2 L350.0,140.5 L358.5,136.4 L367.0,130.0 L375.5,123.8 L384.0,115.7 L392.5,110.0 L401.0,103.8 L409.5,99.2 L418.0,95.0 L426.5,88.0 L435.0,80.8 L443.5,73.2 L452.0,61.8 L460.5,48.2 L469.0,35.0 L477.5,23.0 L486.0,17.0 L494.5,12.0 L503.0,17.0 L511.5,31.8 L520.0,53.8 L528.5,77.5 L537.0,103.8 L545.5,135.0 L554.0,166.8 L562.5,200.8 L571.0,231.2 L579.5,253.8 L588.0,271.8 L596.5,283.2 L605.0,294.1 L613.5,301.8 L622.0,307.9 L630.5,312.2 L639.0,315.9 L647.5,318.2 L656.0,319.3 L664.5,320.0 L673.0,320.5 L681.5,320.8 L690.0,321.0 L698.5,321.0 L707.0,321.0" fill="none" stroke="#00A9FE" stroke-width="2.6"/>
<circle cx="61.0" cy="316.2" r="5.6" fill="#00A9FE"/>
<circle cx="69.5" cy="303.4" r="5.6" fill="#00A9FE"/>
<circle cx="78.0" cy="289.7" r="5.6" fill="#00A9FE"/>
<circle cx="86.5" cy="275.2" r="5.6" fill="#00A9FE"/>
<circle cx="95.0" cy="260.0" r="5.6" fill="#00A9FE"/>
<circle cx="103.5" cy="247.9" r="5.6" fill="#00A9FE"/>
<circle cx="112.0" cy="233.7" r="5.6" fill="#00A9FE"/>
<circle cx="120.5" cy="218.5" r="5.6" fill="#00A9FE"/>
<circle cx="129.0" cy="201.0" r="5.6" fill="#00A9FE"/>
<circle cx="137.5" cy="185.2" r="5.6" fill="#00A9FE"/>
<circle cx="146.0" cy="167.8" r="5.6" fill="#00A9FE"/>
<circle cx="154.5" cy="150.5" r="5.6" fill="#00A9FE"/>
<circle cx="163.0" cy="133.0" r="5.6" fill="#00A9FE"/>
<circle cx="171.5" cy="116.7" r="5.6" fill="#00A9FE"/>
<circle cx="180.0" cy="101.1" r="5.6" fill="#00A9FE"/>
<circle cx="188.5" cy="89.2" r="5.6" fill="#00A9FE"/>
<circle cx="197.0" cy="80.5" r="5.6" fill="#00A9FE"/>
<circle cx="205.5" cy="76.8" r="5.6" fill="#00A9FE"/>
<circle cx="214.0" cy="77.9" r="5.6" fill="#00A9FE"/>
<circle cx="222.5" cy="81.6" r="5.6" fill="#00A9FE"/>
<circle cx="231.0" cy="88.1" r="5.6" fill="#00A9FE"/>
<circle cx="239.5" cy="95.5" r="5.6" fill="#00A9FE"/>
<circle cx="248.0" cy="106.5" r="5.6" fill="#00A9FE"/>
<circle cx="256.5" cy="116.5" r="5.6" fill="#00A9FE"/>
<circle cx="265.0" cy="124.5" r="5.6" fill="#00A9FE"/>
<circle cx="273.5" cy="132.1" r="5.6" fill="#00A9FE"/>
<circle cx="282.0" cy="137.9" r="5.6" fill="#00A9FE"/>
<circle cx="290.5" cy="143.8" r="5.6" fill="#00A9FE"/>
<circle cx="299.0" cy="149.2" r="5.6" fill="#00A9FE"/>
<circle cx="307.5" cy="150.8" r="5.6" fill="#00A9FE"/>
<circle cx="316.0" cy="151.8" r="5.6" fill="#00A9FE"/>
<circle cx="324.5" cy="148.8" r="5.6" fill="#00A9FE"/>
<circle cx="333.0" cy="146.8" r="5.6" fill="#00A9FE"/>
<circle cx="341.5" cy="144.2" r="5.6" fill="#00A9FE"/>
<circle cx="350.0" cy="140.5" r="5.6" fill="#00A9FE"/>
<circle cx="358.5" cy="136.4" r="5.6" fill="#00A9FE"/>
<circle cx="367.0" cy="130.0" r="5.6" fill="#00A9FE"/>
<circle cx="375.5" cy="123.8" r="5.6" fill="#00A9FE"/>
<circle cx="384.0" cy="115.7" r="5.6" fill="#00A9FE"/>
<circle cx="392.5" cy="110.0" r="5.6" fill="#00A9FE"/>
<circle cx="401.0" cy="103.8" r="5.6" fill="#00A9FE"/>
<circle cx="409.5" cy="99.2" r="5.6" fill="#00A9FE"/>
<circle cx="418.0" cy="95.0" r="5.6" fill="#00A9FE"/>
<circle cx="426.5" cy="88.0" r="5.6" fill="#00A9FE"/>
<circle cx="435.0" cy="80.8" r="5.6" fill="#00A9FE"/>
<circle cx="443.5" cy="73.2" r="5.6" fill="#00A9FE"/>
<circle cx="452.0" cy="61.8" r="5.6" fill="#00A9FE"/>
<circle cx="460.5" cy="48.2" r="5.6" fill="#00A9FE"/>
<circle cx="469.0" cy="35.0" r="5.6" fill="#00A9FE"/>
<circle cx="477.5" cy="23.0" r="5.6" fill="#00A9FE"/>
<circle cx="486.0" cy="17.0" r="5.6" fill="#00A9FE"/>
<circle cx="494.5" cy="12.0" r="5.6" fill="#00A9FE"/>
<circle cx="503.0" cy="17.0" r="5.6" fill="#00A9FE"/>
<circle cx="511.5" cy="31.8" r="5.6" fill="#00A9FE"/>
<circle cx="520.0" cy="53.8" r="5.6" fill="#00A9FE"/>
<circle cx="528.5" cy="77.5" r="5.6" fill="#00A9FE"/>
<circle cx="537.0" cy="103.8" r="5.6" fill="#00A9FE"/>
<circle cx="545.5" cy="135.0" r="5.6" fill="#00A9FE"/>
<circle cx="554.0" cy="166.8" r="5.6" fill="#00A9FE"/>
<circle cx="562.5" cy="200.8" r="5.6" fill="#00A9FE"/>
<circle cx="571.0" cy="231.2" r="5.6" fill="#00A9FE"/>
<circle cx="579.5" cy="253.8" r="5.6" fill="#00A9FE"/>
<circle cx="588.0" cy="271.8" r="5.6" fill="#00A9FE"/>
<circle cx="596.5" cy="283.2" r="5.6" fill="#00A9FE"/>
<circle cx="605.0" cy="294.1" r="5.6" fill="#00A9FE"/>
<circle cx="613.5" cy="301.8" r="5.6" fill="#00A9FE"/>
<circle cx="622.0" cy="307.9" r="5.6" fill="#00A9FE"/>
<circle cx="630.5" cy="312.2" r="5.6" fill="#00A9FE"/>
<circle cx="639.0" cy="315.9" r="5.6" fill="#00A9FE"/>
<circle cx="647.5" cy="318.2" r="5.6" fill="#00A9FE"/>
<circle cx="656.0" cy="319.3" r="5.6" fill="#00A9FE"/>
<circle cx="664.5" cy="320.0" r="5.6" fill="#00A9FE"/>
<circle cx="673.0" cy="320.5" r="5.6" fill="#00A9FE"/>
<circle cx="681.5" cy="320.8" r="5.6" fill="#00A9FE"/>
<circle cx="690.0" cy="321.0" r="5.6" fill="#00A9FE"/>
<circle cx="698.5" cy="321.0" r="5.6" fill="#00A9FE"/>
<circle cx="707.0" cy="321.0" r="5.6" fill="#00A9FE"/>
<line x1="383.90" y1="113.20" x2="383.90" y2="808.00" stroke="#BEBEBE" stroke-width="3" stroke-dasharray="16.3 17.7"/>
<clipPath id="cl"><rect x="61.7" y="1.3" width="651.6999999999999" height="966.0"/></clipPath>
<g clip-path="url(#cl)" stroke-linejoin="round">
<path d="M61.0,961.5 L110.0,961.0 L127.5,959.0 L144.2,944.0 L161.2,909.0 L177.5,869.0 L193.0,846.5 L209.2,850.2 L226.2,864.0 L243.0,865.2 L260.0,852.8 L276.8,849.0 L293.8,844.0 L310.5,831.5 L327.5,822.8 L344.2,814.0 L361.2,794.0 L377.1,771.4 L393.8,757.7 L410.4,745.0 L427.1,724.4 L443.7,681.3 L460.3,671.5 L477.0,727.3 L493.6,756.7 L510.3,750.3 L526.9,753.4 L543.6,775.3 L560.2,804.7 L576.9,832.1 L573.0,826.5 L590.5,861.5 L608.0,891.5 L623.0,919.0 L638.0,949.0 L645.5,961.5 L658.0,963.5 L713.0,964.0" fill="none" stroke="#009800" stroke-width="6.2" stroke-dasharray="12.4 4 3.6 3.6 3.6 3.6"/>
<path d="M61.0,961.5 L94.5,960.5 L112.0,957.0 L129.2,947.0 L146.2,909.0 L162.5,868.5 L178.0,847.8 L194.2,854.5 L211.2,866.0 L228.0,870.2 L245.0,861.5 L261.8,850.2 L278.8,849.0 L295.5,842.0 L312.5,829.0 L329.2,826.5 L346.2,810.2 L363.0,790.2 L383.0,768.5 L399.6,762.6 L416.3,763.6 L432.9,769.8 L449.6,743.0 L466.2,670.6 L482.9,671.1 L499.5,718.5 L516.2,747.9 L532.8,756.7 L549.4,785.1 L566.1,822.3 L563.0,821.5 L580.5,861.5 L598.0,894.0 L615.5,921.5 L633.0,949.0 L643.0,961.5 L658.0,963.5 L713.0,964.0" fill="none" stroke="#0000FF" stroke-width="6.2" stroke-dasharray="9 3.6"/>
<path d="M61.0,961.0 L105.0,960.2 L121.2,958.5 L138.2,946.5 L155.0,909.0 L172.0,862.8 L188.8,847.8 L205.5,859.0 L222.5,869.0 L239.5,870.2 L256.2,859.0 L273.0,849.8 L290.0,849.8 L307.0,839.0 L323.8,830.2 L340.5,829.0 L357.5,811.5 L375.4,781.2 L383.0,777.7 L408.1,766.9 L424.1,772.4 L442.1,785.7 L459.4,778.8 L476.6,752.8 L492.7,735.6 L509.3,713.6 L526.3,685.8 L543.6,683.3 L560.2,725.4 L576.9,805.7 L594.2,856.5 L611.0,886.5 L628.0,924.0 L644.2,961.5 L660.5,962.8 L713.0,964.0" fill="none" stroke="#000" stroke-width="6.2"/>
</g>
<text x="75.6" y="1005.3" font-size="33.5" text-anchor="middle" >-6</text>
<text x="169.4" y="1005.3" font-size="33.5" text-anchor="middle" >-5</text>
<text x="263.2" y="1005.3" font-size="33.5" text-anchor="middle" >-4</text>
<text x="357.0" y="1005.3" font-size="33.5" text-anchor="middle" >-3</text>
<text x="450.8" y="1005.3" font-size="33.5" text-anchor="middle" >-2</text>
<text x="544.6" y="1005.3" font-size="33.5" text-anchor="middle" >-1</text>
<text x="638.4" y="1005.3" font-size="33.5" text-anchor="middle" >0</text>
<text x="236.9" y="1040.7" font-size="36.5" text-anchor="start" >Energy (eV, E</text>
<text x="467.3" y="1050.0" font-size="25" text-anchor="start" >F</text>
<text x="482.0" y="1040.7" font-size="36.5" text-anchor="start" >=0)</text>
<text transform="translate(27.1,483.8) rotate(-90)" font-size="36.3" text-anchor="middle">Intensity (arb. units)</text>
<text x="171" y="41.8" font-size="40">h<tspan font-family='"Liberation Serif", "DejaVu Serif", serif' font-size="43" dx="1">ν</tspan> = 21.2 eV</text>
<text x="188.5" y="319.8" font-size="40">h<tspan font-family='"Liberation Serif", "DejaVu Serif", serif' font-size="43" dx="1">ν</tspan> = 84 eV</text>
<text x="70.0" y="93.0" font-size="50.5" text-anchor="start" letter-spacing="0.8">(a)</text>
<text x="240.3" y="640.0" font-size="39.5" text-anchor="start" >Theory</text>
<text x="369.3" y="86.8" font-size="36.8" text-anchor="start" >B</text>
<text x="192.5" y="125.0" font-size="36.8" text-anchor="start" >C'</text>
<text x="219.0" y="236.0" font-size="36.8" text-anchor="start" >C</text>
<text x="477.5" y="127.0" font-size="36.8" text-anchor="start" >A'</text>
<text x="518.0" y="139.0" font-size="36.8" text-anchor="start" >A</text>
<line x1="493.30" y1="32.00" x2="493.30" y2="86.00" stroke="#000" stroke-width="2.8"/>
<line x1="528.50" y1="36.00" x2="528.50" y2="86.00" stroke="#000" stroke-width="2.8"/>
<line x1="493.60" y1="348.20" x2="493.60" y2="378.50" stroke="#000" stroke-width="2.8"/>
<line x1="528.60" y1="359.20" x2="528.60" y2="389.50" stroke="#000" stroke-width="2.8"/>
<line x1="477.30" y1="680.00" x2="477.30" y2="710.50" stroke="#000" stroke-width="2.8"/>
<line x1="539.00" y1="692.30" x2="539.00" y2="722.30" stroke="#000" stroke-width="2.8"/>
<text x="480.3" y="314.3" font-size="36.8" text-anchor="start" >A'</text>
<text x="521.0" y="312.8" font-size="36.8" text-anchor="start" >A</text>
<text x="384.0" y="469.2" font-size="36.8" text-anchor="start" >B</text>
<text x="183.7" y="544.3" font-size="36.8" text-anchor="start" >C</text>
<text x="463.3" y="649.8" font-size="36.8" text-anchor="start" >A'</text>
<text x="532.8" y="668.1" font-size="36.8" text-anchor="start" >A</text>
<text x="385.8" y="711.8" font-size="36.8" text-anchor="start" >B</text>
<text x="176.2" y="914.6" font-size="36.8" text-anchor="start" >C</text>
<line x1="96.00" y1="452.00" x2="171.00" y2="452.00" stroke="#FF00CC" stroke-width="2.6"/>
<circle cx="133.3" cy="452" r="4.8" fill="#fff" stroke="#FF00CC" stroke-width="2"/>
<line x1="96.00" y1="496.70" x2="171.00" y2="496.70" stroke="#00A9FE" stroke-width="2.6"/>
<circle cx="133.3" cy="496.7" r="5.7" fill="#00A9FE"/>
<text x="187.5" y="463.7" font-size="40" text-anchor="start" >300 K</text>
<text x="187.5" y="509.0" font-size="40" text-anchor="start" >15 K</text>
<text x="165.9" y="686.5" font-size="40" text-anchor="start" >U<tspan font-size="27" dy="9.1">eff</tspan></text>
<line x1="96.00" y1="726.20" x2="171.00" y2="726.20" stroke="#000" stroke-width="6.4"/>
<line x1="96.00" y1="770.90" x2="171.00" y2="770.90" stroke="#0000FF" stroke-width="6.2" stroke-dasharray="9 3.6"/>
<line x1="96.00" y1="815.20" x2="171.00" y2="815.20" stroke="#009800" stroke-width="6.2" stroke-dasharray="12.4 4 3.6 3.6 3.6 3.6"/>
<text x="176.5" y="738.0" font-size="40" text-anchor="start" >0 eV</text>
<text x="176.5" y="783.0" font-size="40" text-anchor="start" >1 eV</text>
<text x="176.5" y="827.0" font-size="40" text-anchor="start" >2 eV</text>
<clipPath id="cr"><rect x="853.4" y="0" width="672.9000000000001" height="1052"/></clipPath>
<g clip-path="url(#cr)" stroke-linejoin="round">
<path d="M858.5,232.0 L918.8,232.0 L936.0,226.3 L953.2,184.0 L970.5,127.6 L987.8,115.1 L1005.0,137.0 L1022.2,152.7 L1039.5,155.8 L1056.8,142.5 L1074.0,133.1 L1091.2,137.8 L1108.5,126.8 L1125.8,120.5 L1143.0,124.5 L1160.2,108.8 L1177.5,83.8 L1194.8,81.2 L1212.0,78.2 L1229.2,86.2 L1246.5,101.2 L1263.8,98.2 L1281.0,80.0 L1298.2,70.0 L1315.5,58.8 L1332.8,45.8 L1350.0,49.2 L1367.2,82.5 L1384.5,136.2 L1401.8,170.0 L1419.0,190.0 L1436.2,209.5 L1453.5,214.5 L1470.8,201.2 L1488.0,197.5 L1505.2,190.5 L1522.5,175.0 L1526.0,168.0" fill="none" stroke="#000" stroke-width="6.2"/>
<path d="M858.5,232.0 L909.0,232.0 L926.5,230.2 L943.7,198.1 L960.9,135.4 L978.2,113.5 L995.6,130.7 L1012.8,150.3 L1030.0,155.8 L1047.3,141.7 L1064.5,131.5 L1081.7,137.0 L1099.0,126.0 L1116.2,118.2 L1133.4,119.8 L1150.8,108.8 L1168.0,90.0 L1185.2,78.8 L1202.5,73.8 L1219.8,77.5 L1237.0,87.5 L1254.2,70.0 L1271.5,16.2 L1288.8,22.5 L1306.0,65.0 L1323.2,86.2 L1340.5,97.0 L1357.8,122.5 L1375.0,152.5 L1392.2,176.2 L1409.5,195.5 L1426.8,210.5 L1444.0,224.0 L1461.2,210.0 L1478.5,191.2 L1495.8,184.5 L1513.0,172.5 L1526.0,160.0" fill="none" stroke="#0000FF" stroke-width="6.2" stroke-dasharray="9 3.7"/>
<path d="M858.5,232.0 L910.0,232.0 L927.3,231.8 L944.5,199.7 L961.7,141.7 L979.0,115.1 L996.2,127.6 L1013.4,146.4 L1030.8,154.2 L1048.0,140.1 L1065.3,132.3 L1082.5,136.2 L1099.7,124.5 L1117.0,115.1 L1134.2,115.8 L1151.5,101.2 L1168.8,81.2 L1186.0,73.0 L1203.2,65.5 L1220.5,50.0 L1237.8,18.0 L1255.0,15.5 L1272.2,65.0 L1289.5,90.5 L1306.8,87.0 L1324.0,94.5 L1341.2,112.5 L1358.5,135.0 L1375.8,157.0 L1393.0,178.0 L1410.2,196.8 L1427.5,210.5 L1444.8,223.5 L1462.0,221.0 L1479.2,191.2 L1496.5,175.0 L1513.8,166.2 L1526.0,153.0" fill="none" stroke="#009800" stroke-width="6.2" stroke-dasharray="12.4 4 3.6 3.6 3.6 3.6"/>
<path d="M858.5,471.2 L928.5,470.5 L969.8,463.5 L1016.0,465.0 L1041.0,463.0 L1091.0,453.8 L1128.5,440.0 L1150.8,423.8 L1168.0,405.0 L1185.2,399.5 L1202.5,393.0 L1219.8,396.2 L1237.0,400.0 L1254.2,360.0 L1271.5,268.8 L1288.8,268.8 L1306.0,330.0 L1323.2,386.2 L1340.5,405.0 L1357.8,427.5 L1375.0,447.0 L1392.2,456.2 L1409.5,462.5 L1426.8,467.5 L1444.0,470.0 L1461.2,461.2 L1478.5,447.5 L1495.8,438.8 L1513.0,427.5 L1526.0,420.0" fill="none" stroke="#0000FF" stroke-width="6.2" stroke-dasharray="9 3.7"/>
<path d="M858.5,471.2 L928.5,470.5 L969.8,463.0 L1016.0,463.8 L1078.5,451.2 L1116.0,435.0 L1136.0,426.2 L1151.5,405.0 L1168.8,382.5 L1186.0,376.2 L1203.2,370.0 L1220.5,340.0 L1237.8,262.5 L1255.0,257.5 L1272.2,337.5 L1289.5,405.0 L1306.8,420.0 L1324.0,425.0 L1341.2,437.5 L1358.5,447.5 L1375.8,456.2 L1393.0,462.5 L1410.2,466.2 L1427.5,469.5 L1444.8,470.5 L1462.0,458.8 L1479.2,445.0 L1496.5,432.5 L1513.8,421.2 L1526.0,413.0" fill="none" stroke="#009800" stroke-width="6.2" stroke-dasharray="12.4 4 3.6 3.6 3.6 3.6"/>
<path d="M858.5,471.2 L928.5,470.5 L969.8,464.5 L1016.0,466.2 L1041.0,464.5 L1091.0,458.8 L1141.0,445.0 L1160.2,430.0 L1177.5,413.8 L1194.8,410.5 L1212.0,407.0 L1229.2,415.5 L1246.5,423.8 L1263.8,418.0 L1281.0,408.8 L1298.2,380.0 L1315.5,325.0 L1332.8,268.2 L1350.0,287.0 L1367.2,347.5 L1384.5,408.0 L1401.8,438.0 L1419.0,451.2 L1436.2,464.5 L1453.5,468.0 L1470.8,461.2 L1488.0,450.0 L1505.2,438.8 L1522.5,428.8 L1526.0,427.0" fill="none" stroke="#000" stroke-width="6.2"/>
<path d="M858.5,723.2 L911.0,723.8 L929.8,707.5 L947.2,640.0 L963.5,576.2 L979.0,578.8 L995.5,600.0 L1012.8,613.8 L1030.0,610.0 L1047.2,590.0 L1064.5,583.8 L1081.8,586.2 L1099.0,556.2 L1116.2,551.2 L1133.5,565.0 L1150.8,535.0 L1168.0,503.8 L1185.2,511.2 L1202.5,511.2 L1219.8,528.8 L1237.0,547.5 L1254.2,545.0 L1271.5,528.8 L1288.8,548.8 L1306.0,556.2 L1323.2,543.8 L1340.5,536.2 L1357.8,566.2 L1375.0,600.0 L1392.2,620.0 L1409.5,650.0 L1426.8,680.0 L1444.0,703.8 L1461.2,708.8 L1478.5,692.5 L1495.8,671.2 L1513.0,647.5 L1526.0,622.0" fill="none" stroke="#0000FF" stroke-width="6.2" stroke-dasharray="9 3.7"/>
<path d="M858.5,723.2 L913.5,724.5 L931.5,713.8 L949.8,640.0 L966.0,578.0 L980.5,576.2 L996.2,597.5 L1013.5,612.5 L1030.8,610.0 L1048.0,591.2 L1065.2,586.2 L1082.5,591.2 L1099.8,558.8 L1117.0,555.0 L1134.2,568.8 L1151.5,533.8 L1168.8,517.5 L1186.0,525.0 L1203.2,521.2 L1220.5,526.2 L1237.8,531.2 L1255.0,526.2 L1272.2,541.2 L1289.5,543.8 L1306.8,525.0 L1324.0,517.0 L1341.2,547.5 L1358.5,575.0 L1375.8,596.2 L1393.0,620.0 L1410.2,655.0 L1427.5,683.8 L1444.8,705.0 L1462.0,706.2 L1479.2,685.0 L1496.5,663.8 L1513.8,638.8 L1526.0,610.0" fill="none" stroke="#00C800" stroke-width="6.2" stroke-dasharray="12.4 4 3.6 3.6 3.6 3.6"/>
<path d="M858.5,723.2 L901.0,723.8 L918.8,726.2 L936.0,710.0 L953.2,635.0 L970.5,572.5 L987.8,575.5 L1005.0,600.0 L1022.2,615.0 L1039.5,612.5 L1056.8,590.0 L1074.0,582.5 L1091.2,582.5 L1108.5,552.5 L1125.8,548.0 L1143.0,561.2 L1160.2,525.0 L1177.5,493.8 L1194.8,504.5 L1212.0,503.8 L1229.2,520.0 L1246.5,551.2 L1263.8,547.0 L1281.0,528.0 L1298.2,531.2 L1315.5,572.5 L1332.8,598.8 L1350.0,572.5 L1367.2,559.5 L1384.5,591.2 L1401.8,615.0 L1419.0,635.5 L1436.2,672.5 L1453.5,700.0 L1470.8,708.8 L1488.0,695.0 L1505.2,673.8 L1522.5,652.5 L1526.0,645.0" fill="none" stroke="#000" stroke-width="6.2"/>
<path d="M858.5,961.8 L911.0,962.2 L929.8,948.5 L947.2,886.0 L963.5,813.5 L978.2,793.5 L995.5,818.5 L1012.8,842.2 L1030.0,838.5 L1047.2,798.5 L1064.5,791.5 L1081.8,838.5 L1099.0,861.0 L1116.2,862.2 L1133.5,869.8 L1150.8,846.0 L1168.0,826.0 L1185.2,824.8 L1202.5,827.2 L1219.8,843.5 L1237.0,862.2 L1254.2,843.5 L1271.5,797.2 L1288.8,801.0 L1306.0,806.0 L1323.2,778.5 L1340.5,761.0 L1357.8,808.5 L1375.0,896.0 L1392.2,918.5 L1409.5,933.5 L1426.8,946.0 L1444.0,954.8 L1461.2,943.5 L1478.5,931.0 L1495.8,931.0 L1513.0,929.8 L1526.0,922.0" fill="none" stroke="#0000FF" stroke-width="6.2" stroke-dasharray="9 3.7"/>
<path d="M858.5,961.8 L913.5,963.0 L931.5,953.5 L949.8,886.0 L966.0,811.0 L979.8,791.5 L996.2,816.0 L1013.5,838.5 L1030.8,839.8 L1048.0,798.5 L1065.2,790.5 L1082.5,839.8 L1099.8,862.2 L1117.0,863.5 L1134.2,871.0 L1151.5,848.5 L1168.8,828.5 L1186.0,829.8 L1203.2,836.0 L1220.5,838.5 L1237.8,803.5 L1255.0,768.5 L1272.2,811.0 L1289.5,836.0 L1306.8,793.5 L1324.0,764.8 L1341.2,783.5 L1358.5,851.0 L1375.8,906.0 L1393.0,923.5 L1410.2,936.0 L1427.5,947.2 L1444.8,956.0 L1462.0,954.8 L1479.2,931.0 L1496.5,921.0 L1513.8,919.8 L1526.0,917.0" fill="none" stroke="#009800" stroke-width="6.2" stroke-dasharray="12.4 4 3.6 3.6 3.6 3.6"/>
<path d="M858.5,961.8 L901.0,962.2 L918.8,964.8 L936.0,952.2 L953.2,886.0 L970.5,807.2 L987.8,797.2 L1005.0,823.5 L1022.2,847.2 L1039.5,842.2 L1056.8,796.0 L1074.0,791.5 L1091.2,841.5 L1108.5,859.8 L1125.8,859.0 L1143.0,864.8 L1160.2,847.2 L1177.5,821.0 L1194.8,824.8 L1212.0,826.0 L1229.2,842.2 L1246.5,859.8 L1263.8,866.0 L1281.0,848.5 L1298.2,812.2 L1315.5,803.5 L1332.8,791.5 L1350.0,769.8 L1367.2,786.0 L1384.5,866.0 L1401.8,912.2 L1419.0,928.5 L1436.2,943.5 L1453.5,946.0 L1470.8,936.0 L1488.0,938.5 L1505.2,938.0 L1522.5,931.0 L1526.0,930.0" fill="none" stroke="#000" stroke-width="6.2"/>
</g>
<line x1="1448.20" y1="7.10" x2="1448.20" y2="969.70" stroke="#000" stroke-width="2.8" stroke-dasharray="8.3 6.16"/>
<line x1="1447.90" y1="103.10" x2="1447.90" y2="178.00" stroke="#FF0000" stroke-width="4"/>
<polygon points="1439.8,174.2 1456.1,174.2 1447.9,194.9" fill="#FF0000"/>
<rect x="853.4" y="1.3" width="676.5000000000001" height="968.4000000000001" fill="none" stroke="#000" stroke-width="3"/>
<line x1="853.40" y1="243.40" x2="1529.90" y2="243.40" stroke="#000" stroke-width="3"/>
<line x1="853.40" y1="487.30" x2="1529.90" y2="487.30" stroke="#000" stroke-width="3"/>
<line x1="853.40" y1="731.30" x2="1529.90" y2="731.30" stroke="#000" stroke-width="3"/>
<line x1="872.38" y1="243.40" x2="872.38" y2="229.60" stroke="#000" stroke-width="2.9"/>
<line x1="968.35" y1="243.40" x2="968.35" y2="229.60" stroke="#000" stroke-width="2.9"/>
<line x1="1064.32" y1="243.40" x2="1064.32" y2="229.60" stroke="#000" stroke-width="2.9"/>
<line x1="1160.29" y1="243.40" x2="1160.29" y2="229.60" stroke="#000" stroke-width="2.9"/>
<line x1="1256.26" y1="243.40" x2="1256.26" y2="229.60" stroke="#000" stroke-width="2.9"/>
<line x1="1352.23" y1="243.40" x2="1352.23" y2="229.60" stroke="#000" stroke-width="2.9"/>
<line x1="1448.20" y1="243.40" x2="1448.20" y2="229.60" stroke="#000" stroke-width="2.9"/>
<line x1="872.38" y1="487.30" x2="872.38" y2="473.50" stroke="#000" stroke-width="2.9"/>
<line x1="968.35" y1="487.30" x2="968.35" y2="473.50" stroke="#000" stroke-width="2.9"/>
<line x1="1064.32" y1="487.30" x2="1064.32" y2="473.50" stroke="#000" stroke-width="2.9"/>
<line x1="1160.29" y1="487.30" x2="1160.29" y2="473.50" stroke="#000" stroke-width="2.9"/>
<line x1="1256.26" y1="487.30" x2="1256.26" y2="473.50" stroke="#000" stroke-width="2.9"/>
<line x1="1352.23" y1="487.30" x2="1352.23" y2="473.50" stroke="#000" stroke-width="2.9"/>
<line x1="1448.20" y1="487.30" x2="1448.20" y2="473.50" stroke="#000" stroke-width="2.9"/>
<line x1="872.38" y1="731.30" x2="872.38" y2="717.50" stroke="#000" stroke-width="2.9"/>
<line x1="968.35" y1="731.30" x2="968.35" y2="717.50" stroke="#000" stroke-width="2.9"/>
<line x1="1064.32" y1="731.30" x2="1064.32" y2="717.50" stroke="#000" stroke-width="2.9"/>
<line x1="1160.29" y1="731.30" x2="1160.29" y2="717.50" stroke="#000" stroke-width="2.9"/>
<line x1="1256.26" y1="731.30" x2="1256.26" y2="717.50" stroke="#000" stroke-width="2.9"/>
<line x1="1352.23" y1="731.30" x2="1352.23" y2="717.50" stroke="#000" stroke-width="2.9"/>
<line x1="1448.20" y1="731.30" x2="1448.20" y2="717.50" stroke="#000" stroke-width="2.9"/>
<line x1="872.38" y1="969.70" x2="872.38" y2="955.90" stroke="#000" stroke-width="2.9"/>
<line x1="968.35" y1="969.70" x2="968.35" y2="955.90" stroke="#000" stroke-width="2.9"/>
<line x1="1064.32" y1="969.70" x2="1064.32" y2="955.90" stroke="#000" stroke-width="2.9"/>
<line x1="1160.29" y1="969.70" x2="1160.29" y2="955.90" stroke="#000" stroke-width="2.9"/>
<line x1="1256.26" y1="969.70" x2="1256.26" y2="955.90" stroke="#000" stroke-width="2.9"/>
<line x1="1352.23" y1="969.70" x2="1352.23" y2="955.90" stroke="#000" stroke-width="2.9"/>
<line x1="1448.20" y1="969.70" x2="1448.20" y2="955.90" stroke="#000" stroke-width="2.9"/>
<text x="872.4" y="1008.6" font-size="33.5" text-anchor="middle" >-6</text>
<text x="968.4" y="1008.6" font-size="33.5" text-anchor="middle" >-5</text>
<text x="1064.3" y="1008.6" font-size="33.5" text-anchor="middle" >-4</text>
<text x="1160.3" y="1008.6" font-size="33.5" text-anchor="middle" >-3</text>
<text x="1256.3" y="1008.6" font-size="33.5" text-anchor="middle" >-2</text>
<text x="1352.2" y="1008.6" font-size="33.5" text-anchor="middle" >-1</text>
<text x="1448.2" y="1008.6" font-size="33.5" text-anchor="middle" >0</text>
<text x="1054.6" y="1042.6" font-size="36.5" text-anchor="start" >Energy (eV, E</text>
<text x="1278.8" y="1052.0" font-size="25" text-anchor="start" >F</text>
<text x="1294.7" y="1042.6" font-size="36.5" text-anchor="start" >= 0)</text>
<text transform="translate(786,441.5) rotate(-90)" font-size="36.3" text-anchor="middle">DOS (states/eV atom)</text>
<line x1="853.40" y1="231.60" x2="867.40" y2="231.60" stroke="#000" stroke-width="2.9"/>
<text x="845.6" y="242.6" font-size="33.2" text-anchor="end" >0</text>
<line x1="853.40" y1="171.60" x2="867.40" y2="171.60" stroke="#000" stroke-width="2.9"/>
<text x="845.6" y="182.6" font-size="33.2" text-anchor="end" >4</text>
<line x1="853.40" y1="111.60" x2="867.40" y2="111.60" stroke="#000" stroke-width="2.9"/>
<text x="845.6" y="122.6" font-size="33.2" text-anchor="end" >8</text>
<line x1="853.40" y1="51.60" x2="867.40" y2="51.60" stroke="#000" stroke-width="2.9"/>
<text x="845.6" y="62.6" font-size="33.2" text-anchor="end" >12</text>
<line x1="853.40" y1="201.60" x2="861.90" y2="201.60" stroke="#000" stroke-width="2.9"/>
<line x1="853.40" y1="141.60" x2="861.90" y2="141.60" stroke="#000" stroke-width="2.9"/>
<line x1="853.40" y1="81.60" x2="861.90" y2="81.60" stroke="#000" stroke-width="2.9"/>
<line x1="853.40" y1="21.60" x2="861.90" y2="21.60" stroke="#000" stroke-width="2.9"/>
<line x1="853.40" y1="471.20" x2="867.40" y2="471.20" stroke="#000" stroke-width="2.9"/>
<text x="845.6" y="482.2" font-size="33.2" text-anchor="end" >0</text>
<line x1="853.40" y1="426.22" x2="867.40" y2="426.22" stroke="#000" stroke-width="2.9"/>
<text x="845.6" y="437.2" font-size="33.2" text-anchor="end" >2</text>
<line x1="853.40" y1="381.24" x2="867.40" y2="381.24" stroke="#000" stroke-width="2.9"/>
<text x="845.6" y="392.2" font-size="33.2" text-anchor="end" >4</text>
<line x1="853.40" y1="336.26" x2="867.40" y2="336.26" stroke="#000" stroke-width="2.9"/>
<text x="845.6" y="347.3" font-size="33.2" text-anchor="end" >6</text>
<line x1="853.40" y1="291.28" x2="867.40" y2="291.28" stroke="#000" stroke-width="2.9"/>
<text x="845.6" y="302.3" font-size="33.2" text-anchor="end" >8</text>
<line x1="853.40" y1="723.40" x2="867.40" y2="723.40" stroke="#000" stroke-width="2.9"/>
<text x="845.6" y="734.4" font-size="33.2" text-anchor="end" >0.0</text>
<line x1="853.40" y1="651.00" x2="867.40" y2="651.00" stroke="#000" stroke-width="2.9"/>
<text x="845.6" y="662.0" font-size="33.2" text-anchor="end" >1.0</text>
<line x1="853.40" y1="578.60" x2="867.40" y2="578.60" stroke="#000" stroke-width="2.9"/>
<text x="845.6" y="589.6" font-size="33.2" text-anchor="end" >2.0</text>
<line x1="853.40" y1="506.20" x2="867.40" y2="506.20" stroke="#000" stroke-width="2.9"/>
<text x="845.6" y="517.2" font-size="33.2" text-anchor="end" >3.0</text>
<line x1="853.40" y1="687.20" x2="861.90" y2="687.20" stroke="#000" stroke-width="2.9"/>
<line x1="853.40" y1="614.80" x2="861.90" y2="614.80" stroke="#000" stroke-width="2.9"/>
<line x1="853.40" y1="542.40" x2="861.90" y2="542.40" stroke="#000" stroke-width="2.9"/>
<line x1="853.40" y1="962.60" x2="867.40" y2="962.60" stroke="#000" stroke-width="2.9"/>
<text x="845.6" y="973.6" font-size="33.2" text-anchor="end" >0.0</text>
<line x1="853.40" y1="902.50" x2="867.40" y2="902.50" stroke="#000" stroke-width="2.9"/>
<text x="845.6" y="913.5" font-size="33.2" text-anchor="end" >0.2</text>
<line x1="853.40" y1="842.40" x2="867.40" y2="842.40" stroke="#000" stroke-width="2.9"/>
<text x="845.6" y="853.4" font-size="33.2" text-anchor="end" >0.4</text>
<line x1="853.40" y1="782.30" x2="867.40" y2="782.30" stroke="#000" stroke-width="2.9"/>
<text x="845.6" y="793.3" font-size="33.2" text-anchor="end" >0.6</text>
<line x1="853.40" y1="932.55" x2="861.90" y2="932.55" stroke="#000" stroke-width="2.9"/>
<line x1="853.40" y1="872.45" x2="861.90" y2="872.45" stroke="#000" stroke-width="2.9"/>
<line x1="853.40" y1="812.35" x2="861.90" y2="812.35" stroke="#000" stroke-width="2.9"/>
<line x1="853.40" y1="752.25" x2="861.90" y2="752.25" stroke="#000" stroke-width="2.9"/>
<text x="878.5" y="47.5" font-size="39.5" text-anchor="start" >Total DOS</text>
<text x="874.8" y="130.4" font-size="50.5" text-anchor="start" letter-spacing="0.8">(b)</text>
<text x="880.3" y="280.0" font-size="40" text-anchor="start" >Cr 3d</text>
<text x="874.8" y="366.3" font-size="50.5" text-anchor="start" letter-spacing="0.8">(c)</text>
<text x="884.5" y="522.2" font-size="40" text-anchor="start" >Te 5p</text>
<text x="876.3" y="595.7" font-size="50.5" text-anchor="start" letter-spacing="0.8">(d)</text>
<text x="889.5" y="771.0" font-size="40" text-anchor="start" >Ge 4p</text>
<text x="874.3" y="852.3" font-size="50.5" text-anchor="start" letter-spacing="0.8">(e)</text>
<text x="1035.0" y="300.0" font-size="35.5" text-anchor="start" >U<tspan font-size="25.5" dy="8">eff</tspan></text>
<line x1="959.20" y1="336.50" x2="1026.90" y2="336.50" stroke="#000" stroke-width="6.5"/>
<line x1="959.20" y1="376.70" x2="1026.90" y2="376.70" stroke="#0000FF" stroke-width="6.2" stroke-dasharray="9 3.7"/>
<line x1="959.20" y1="416.80" x2="1026.90" y2="416.80" stroke="#009800" stroke-width="6.2" stroke-dasharray="12.4 4 3.6 3.6 3.6 3.6"/>
<text x="1042.8" y="347.7" font-size="35.5" text-anchor="start" >0 eV</text>
<text x="1042.8" y="388.2" font-size="35.5" text-anchor="start" >1 eV</text>
<text x="1042.8" y="427.7" font-size="35.5" text-anchor="start" >2 eV</text>
</svg>
</body></html>
